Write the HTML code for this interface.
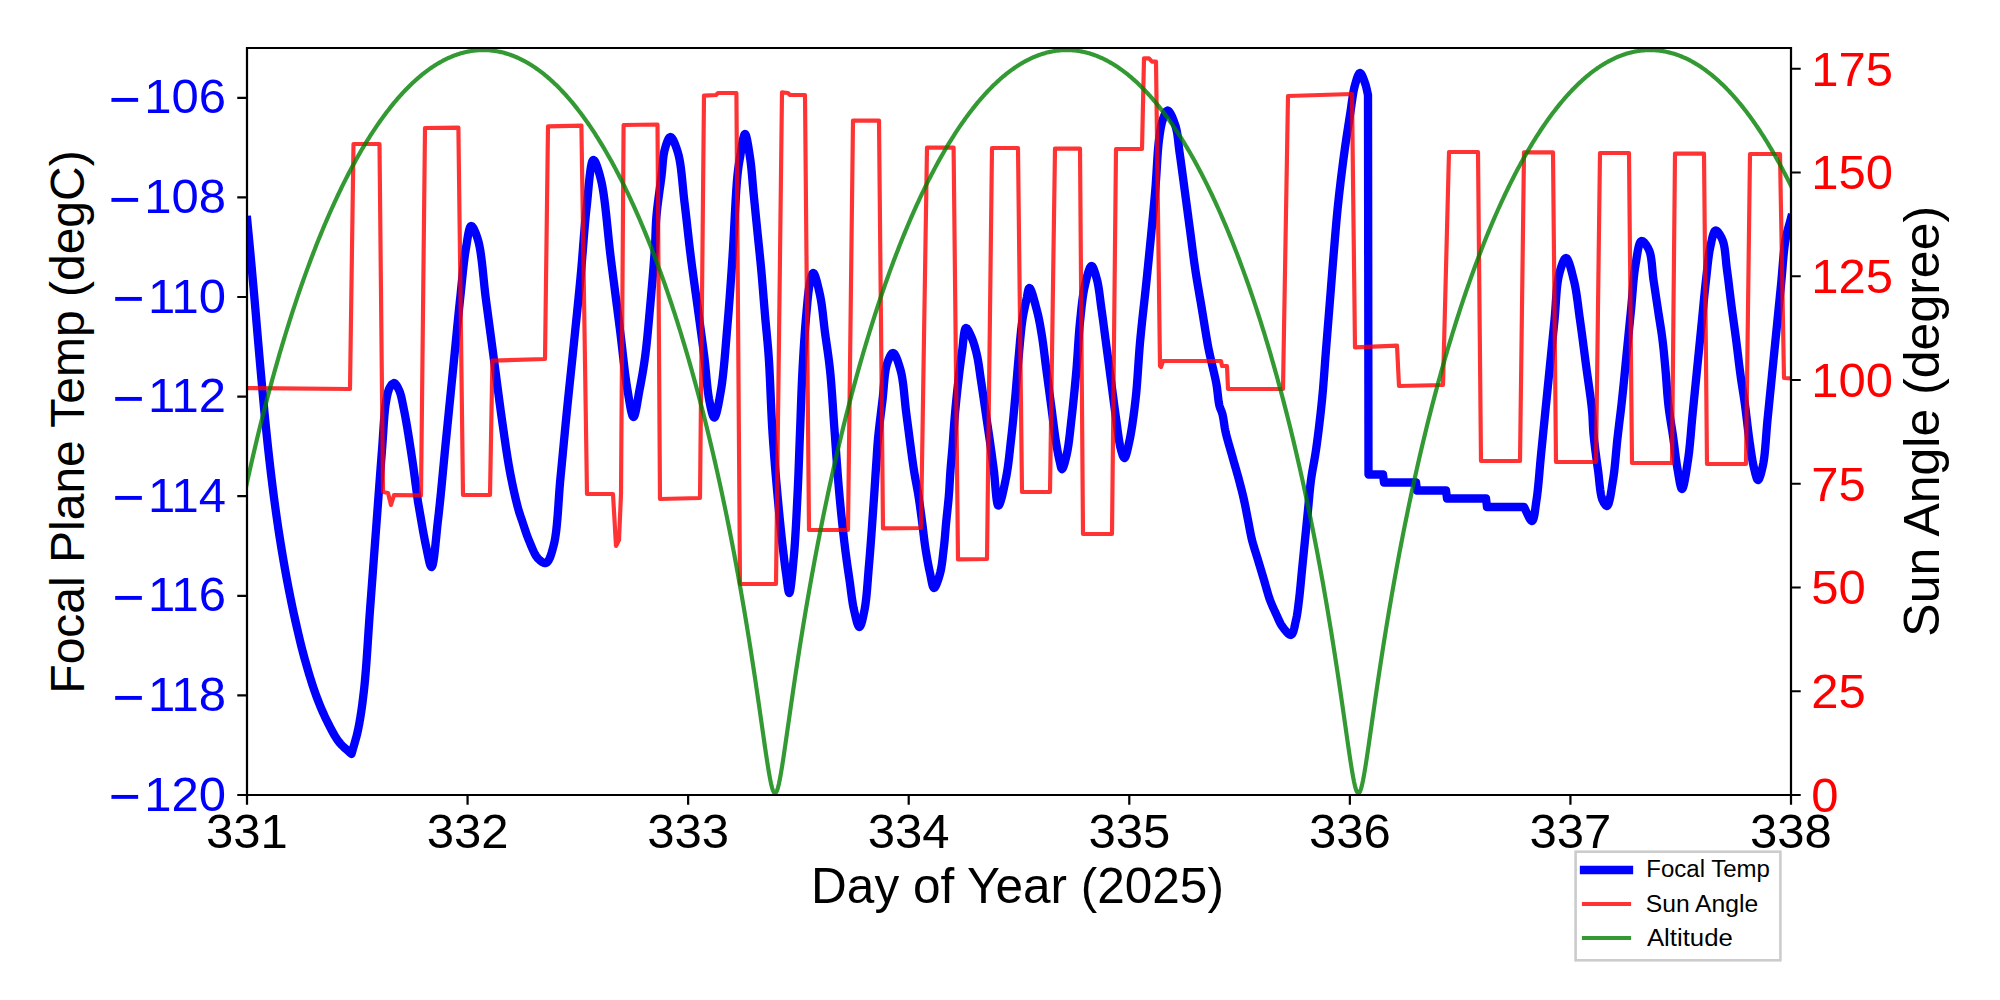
<!DOCTYPE html><html><head><meta charset="utf-8"><style>html,body{margin:0;padding:0;background:#fff;}svg{display:block;}text{font-family:"Liberation Sans", sans-serif;}</style></head><body>
<svg width="2000" height="1000" viewBox="0 0 2000 1000">
<rect width="2000" height="1000" fill="#fff"/>
<defs><clipPath id="ax"><rect x="247" y="48" width="1544" height="747"/></clipPath></defs>
<g clip-path="url(#ax)" fill="none">
<path d="M247.2,220 L247.39,222 L247.58,224 L247.77,226 L247.96,228 L248.15,230 L248.35,232 L248.54,234 L248.73,236 L248.92,238 L249.11,240 L249.3,242 L249.49,244 L249.68,246 L249.87,248 L250.06,250 L250.25,252 L250.44,254 L250.63,256 L250.81,258 L251,260 L251.18,262 L251.37,264 L251.55,266 L251.74,268 L251.92,270 L252.1,272 L252.28,274 L252.46,276 L252.64,278 L252.82,280 L253,282 L253.18,284 L253.36,286 L253.54,288 L253.72,290 L253.9,292 L254.07,294 L254.25,296 L254.42,298 L254.6,300 L254.77,302 L254.95,304 L255.12,306 L255.29,308 L255.46,310 L255.63,312 L255.8,314 L255.97,316 L256.14,318 L256.31,320 L256.47,322 L256.64,324 L256.81,326 L256.98,328 L257.15,330 L257.32,332 L257.49,334 L257.66,336 L257.83,338 L258,340 L258.17,342 L258.35,344 L258.52,346 L258.69,348 L258.86,350 L259.04,352 L259.21,354 L259.38,356 L259.56,358 L259.73,360 L259.91,362 L260.08,364 L260.26,366 L260.43,368 L260.61,370 L260.79,372 L260.96,374 L261.14,376 L261.32,378 L261.5,380 L261.68,382 L261.86,384 L262.04,386 L262.22,388 L262.4,390 L262.58,392 L262.76,394 L262.94,396 L263.12,398 L263.31,400 L263.49,402 L263.67,404 L263.86,406 L264.05,408 L264.24,410 L264.42,412 L264.62,414 L264.81,416 L265,418 L265.2,420 L265.4,422 L265.6,424 L265.8,426 L266,428 L266.2,430 L266.4,432 L266.61,434 L266.81,436 L267.02,438 L267.23,440 L267.43,442 L267.65,444 L267.86,446 L268.07,448 L268.29,450 L268.51,452 L268.73,454 L268.95,456 L269.17,458 L269.4,460 L269.63,462 L269.86,464 L270.09,466 L270.32,468 L270.56,470 L270.79,472 L271.03,474.01 L271.27,476.01 L271.51,478.01 L271.75,480.01 L272,482.01 L272.24,484.01 L272.49,486.01 L272.74,488.01 L273,490.01 L273.25,492 L273.51,494 L273.77,496 L274.03,498 L274.3,500 L274.57,502 L274.84,504 L275.11,506 L275.39,508.01 L275.66,510.01 L275.94,512.01 L276.22,514.01 L276.5,516.01 L276.79,518.01 L277.08,520.01 L277.37,522.01 L277.66,524.01 L277.95,526.01 L278.25,528.01 L278.55,530.01 L278.86,532.01 L279.16,534.01 L279.47,536 L279.78,538 L280.1,540 L280.42,542 L280.74,544 L281.06,546.01 L281.39,548.01 L281.72,550.01 L282.05,552.01 L282.38,554.01 L282.72,556.01 L283.06,558.01 L283.4,560.01 L283.75,562.01 L284.1,564.01 L284.45,566.01 L284.8,568.01 L285.16,570.01 L285.52,572.01 L285.89,574.01 L286.25,576.01 L286.62,578 L287,580 L287.38,582 L287.76,584.01 L288.15,586.01 L288.53,588.01 L288.92,590.01 L289.32,592.01 L289.71,594.02 L290.11,596.02 L290.52,598.02 L290.92,600.02 L291.33,602.02 L291.75,604.02 L292.16,606.02 L292.59,608.02 L293.01,610.01 L293.44,612.01 L293.87,614.01 L294.31,616.01 L294.75,618 L295.2,620 L295.65,622.01 L296.11,624.02 L296.56,626.03 L297.02,628.05 L297.49,630.06 L297.96,632.08 L298.43,634.1 L298.9,636.12 L299.38,638.13 L299.87,640.15 L300.36,642.16 L300.85,644.16 L301.35,646.17 L301.85,648.17 L302.36,650.16 L302.88,652.14 L303.4,654.12 L303.93,656.09 L304.46,658.05 L305,660 L305.56,661.98 L306.12,663.97 L306.69,665.96 L307.27,667.95 L307.85,669.95 L308.44,671.94 L309.04,673.93 L309.64,675.91 L310.25,677.88 L310.86,679.84 L311.47,681.78 L312.09,683.71 L312.71,685.62 L313.34,687.5 L313.97,689.36 L314.6,691.19 L315.23,693 L315.86,694.77 L316.5,696.5 L317.27,698.57 L318.05,700.59 L318.82,702.58 L319.6,704.52 L320.38,706.43 L321.17,708.31 L321.96,710.17 L322.77,712.01 L323.58,713.82 L324.41,715.63 L325.26,717.42 L326.12,719.21 L327,721 L327.92,722.85 L328.85,724.72 L329.79,726.58 L330.74,728.44 L331.71,730.29 L332.69,732.1 L333.69,733.89 L334.71,735.63 L335.74,737.32 L336.8,738.95 L337.89,740.52 L339,742 L340.46,743.75 L341.97,745.37 L343.53,746.89 L345.12,748.33 L346.72,749.73 L348.32,751.12 L349.92,752.54 L351.5,754 L352.05,752.02 L352.6,750.07 L353.16,748.15 L353.73,746.24 L354.29,744.33 L354.85,742.4 L355.4,740.46 L355.95,738.48 L356.49,736.45 L357.01,734.37 L357.51,732.23 L358,730 L358.36,728.25 L358.71,726.49 L359.05,724.7 L359.39,722.9 L359.71,721.07 L360.03,719.21 L360.35,717.33 L360.65,715.43 L360.96,713.49 L361.25,711.53 L361.54,709.54 L361.83,707.51 L362.11,705.45 L362.39,703.36 L362.66,701.23 L362.93,699.06 L363.2,696.86 L363.47,694.61 L363.74,692.33 L364,690 L364.18,688.33 L364.36,686.62 L364.54,684.89 L364.72,683.12 L364.89,681.32 L365.06,679.5 L365.22,677.65 L365.38,675.77 L365.54,673.87 L365.7,671.95 L365.86,670 L366.01,668.03 L366.16,666.05 L366.31,664.05 L366.46,662.03 L366.61,659.99 L366.75,657.94 L366.9,655.88 L367.04,653.81 L367.18,651.73 L367.32,649.64 L367.46,647.54 L367.6,645.44 L367.74,643.33 L367.88,641.22 L368.01,639.1 L368.15,636.99 L368.29,634.87 L368.43,632.76 L368.57,630.65 L368.71,628.54 L368.85,626.44 L368.99,624.35 L369.13,622.26 L369.27,620.19 L369.41,618.12 L369.56,616.07 L369.7,614.03 L369.85,612.01 L370,610 L370.15,608 L370.3,606 L370.45,604 L370.6,602 L370.75,600 L370.9,598 L371.05,596 L371.2,594 L371.35,592 L371.5,590 L371.65,588 L371.8,586 L371.95,584 L372.1,582 L372.25,580 L372.4,578 L372.55,576 L372.7,574 L372.85,572 L373,570 L373.15,568 L373.3,566 L373.45,564 L373.6,562 L373.75,560 L373.9,558 L374.05,556 L374.2,554 L374.35,552 L374.5,550 L374.65,548 L374.8,546 L374.95,544 L375.1,542 L375.25,540 L375.4,538 L375.55,536 L375.7,534 L375.85,532 L376,530 L376.15,527.99 L376.3,525.98 L376.45,523.95 L376.6,521.91 L376.76,519.86 L376.91,517.81 L377.06,515.74 L377.22,513.67 L377.37,511.6 L377.52,509.52 L377.68,507.44 L377.83,505.36 L377.98,503.27 L378.14,501.19 L378.29,499.11 L378.45,497.02 L378.6,494.94 L378.75,492.87 L378.91,490.8 L379.06,488.73 L379.21,486.67 L379.36,484.62 L379.52,482.57 L379.67,480.54 L379.82,478.51 L379.97,476.5 L380.12,474.49 L380.27,472.5 L380.42,470.53 L380.57,468.57 L380.71,466.63 L380.86,464.7 L381.01,462.79 L381.15,460.9 L381.3,459.03 L381.44,457.18 L381.58,455.35 L381.72,453.54 L381.86,451.76 L382,450 L382.17,447.74 L382.34,445.48 L382.5,443.23 L382.65,440.97 L382.8,438.73 L382.95,436.5 L383.09,434.28 L383.23,432.08 L383.37,429.9 L383.51,427.74 L383.65,425.61 L383.79,423.52 L383.94,421.45 L384.09,419.43 L384.24,417.45 L384.4,415.51 L384.57,413.62 L384.74,411.78 L384.92,409.99 L385.12,408.27 L385.32,406.6 L385.53,405 L385.76,403.46 L386,402 L386.48,399.3 L386.96,396.76 L387.45,394.4 L387.99,392.23 L388.58,390.27 L389.25,388.52 L390,387 L391.92,384.22 L394,383 L395.28,383.71 L396.58,385.39 L397.85,387.61 L399,390 L399.63,391.51 L400.21,393.15 L400.74,394.9 L401.23,396.77 L401.7,398.75 L402.15,400.83 L402.59,403 L403.04,405.25 L403.51,407.59 L404,410 L404.33,411.6 L404.66,413.27 L404.99,415.01 L405.33,416.81 L405.67,418.67 L406.01,420.58 L406.36,422.53 L406.7,424.52 L407.05,426.55 L407.4,428.62 L407.74,430.71 L408.09,432.82 L408.43,434.94 L408.77,437.08 L409.11,439.23 L409.45,441.37 L409.78,443.51 L410.11,445.65 L410.44,447.77 L410.76,449.87 L411.08,451.95 L411.39,454 L411.7,456.02 L412,458 L412.31,460.04 L412.61,462.07 L412.9,464.09 L413.19,466.11 L413.47,468.12 L413.75,470.13 L414.03,472.13 L414.3,474.13 L414.57,476.13 L414.84,478.12 L415.1,480.11 L415.36,482.1 L415.62,484.09 L415.89,486.08 L416.15,488.06 L416.41,490.05 L416.67,492.04 L416.93,494.02 L417.19,496.01 L417.46,498.01 L417.73,500 L418,502 L418.36,504.02 L418.73,506.06 L419.09,508.13 L419.46,510.22 L419.82,512.33 L420.19,514.44 L420.55,516.56 L420.91,518.69 L421.28,520.81 L421.64,522.92 L422.01,525.02 L422.37,527.1 L422.74,529.17 L423.1,531.2 L423.46,533.21 L423.83,535.18 L424.19,537.11 L424.55,538.99 L424.92,540.83 L425.28,542.61 L425.64,544.34 L426,546 L426.56,548.61 L427.12,551.39 L427.68,554.22 L428.25,557.02 L428.81,559.66 L429.37,562.05 L429.92,564.08 L430.46,565.65 L430.99,566.66 L431.5,567 L431.82,566.82 L432.14,566.33 L432.45,565.55 L432.75,564.51 L433.05,563.21 L433.34,561.69 L433.63,559.96 L433.92,558.04 L434.2,555.94 L434.48,553.7 L434.75,551.33 L435.03,548.85 L435.3,546.28 L435.57,543.64 L435.84,540.95 L436.11,538.23 L436.38,535.5 L436.64,532.78 L436.91,530.08 L437.18,527.44 L437.45,524.86 L437.73,522.38 L438,520 L438.21,518.25 L438.41,516.48 L438.62,514.68 L438.82,512.86 L439.02,511.02 L439.23,509.15 L439.43,507.27 L439.63,505.36 L439.84,503.44 L440.04,501.5 L440.24,499.54 L440.44,497.56 L440.64,495.58 L440.84,493.57 L441.04,491.56 L441.24,489.53 L441.44,487.5 L441.64,485.45 L441.83,483.39 L442.03,481.33 L442.23,479.26 L442.43,477.19 L442.63,475.11 L442.83,473.02 L443.02,470.94 L443.22,468.85 L443.42,466.76 L443.62,464.67 L443.81,462.58 L444.01,460.5 L444.21,458.42 L444.41,456.34 L444.61,454.27 L444.8,452.2 L445,450.15 L445.2,448.1 L445.4,446.06 L445.6,444.03 L445.8,442.01 L446,440 L446.2,438 L446.4,435.99 L446.6,433.97 L446.81,431.95 L447.01,429.92 L447.21,427.89 L447.41,425.85 L447.62,423.82 L447.82,421.77 L448.03,419.73 L448.23,417.69 L448.44,415.64 L448.64,413.59 L448.85,411.54 L449.05,409.5 L449.26,407.45 L449.46,405.4 L449.66,403.36 L449.87,401.32 L450.07,399.28 L450.28,397.25 L450.48,395.22 L450.68,393.19 L450.88,391.17 L451.08,389.16 L451.28,387.15 L451.49,385.15 L451.68,383.16 L451.88,381.17 L452.08,379.19 L452.28,377.22 L452.47,375.26 L452.67,373.32 L452.86,371.38 L453.05,369.45 L453.25,367.53 L453.44,365.63 L453.63,363.74 L453.81,361.86 L454,360 L454.21,357.86 L454.42,355.74 L454.63,353.63 L454.84,351.54 L455.04,349.45 L455.25,347.38 L455.45,345.32 L455.65,343.27 L455.85,341.23 L456.05,339.2 L456.24,337.18 L456.44,335.17 L456.64,333.17 L456.83,331.18 L457.03,329.19 L457.22,327.21 L457.41,325.24 L457.61,323.27 L457.8,321.31 L458,319.36 L458.19,317.41 L458.39,315.46 L458.59,313.52 L458.78,311.58 L458.98,309.65 L459.18,307.72 L459.39,305.79 L459.59,303.86 L459.79,301.93 L460,300 L460.22,297.92 L460.44,295.82 L460.66,293.7 L460.88,291.57 L461.09,289.43 L461.31,287.29 L461.53,285.14 L461.74,282.99 L461.96,280.85 L462.17,278.71 L462.39,276.58 L462.61,274.47 L462.83,272.37 L463.05,270.29 L463.28,268.23 L463.51,266.2 L463.74,264.2 L463.97,262.23 L464.21,260.29 L464.45,258.4 L464.7,256.54 L464.95,254.73 L465.2,252.97 L465.46,251.26 L465.73,249.6 L466,248 L466.42,245.48 L466.84,242.84 L467.26,240.15 L467.68,237.5 L468.11,234.95 L468.56,232.58 L469.03,230.47 L469.52,228.67 L470.04,227.28 L470.6,226.37 L471.2,226 L472.07,226.37 L473.03,227.55 L474.05,229.37 L475.1,231.69 L476.13,234.34 L477.11,237.16 L478,240 L478.38,241.33 L478.74,242.75 L479.09,244.26 L479.43,245.85 L479.75,247.51 L480.06,249.25 L480.36,251.05 L480.65,252.92 L480.93,254.84 L481.2,256.82 L481.46,258.84 L481.72,260.91 L481.97,263.01 L482.21,265.15 L482.45,267.31 L482.68,269.5 L482.92,271.71 L483.14,273.94 L483.37,276.17 L483.6,278.41 L483.83,280.65 L484.05,282.88 L484.28,285.1 L484.51,287.31 L484.75,289.5 L484.99,291.67 L485.23,293.81 L485.48,295.91 L485.74,297.98 L486,300 L486.27,302 L486.53,304 L486.8,306 L487.07,308 L487.33,310 L487.6,312 L487.87,314 L488.13,316 L488.4,318 L488.67,320 L488.93,322 L489.2,324 L489.47,326 L489.73,328 L490,330 L490.27,332 L490.53,334 L490.8,336 L491.07,338 L491.33,340 L491.6,342 L491.87,344 L492.13,346 L492.4,348 L492.67,350 L492.93,352 L493.2,354 L493.47,356 L493.73,358 L494,360 L494.27,362 L494.53,364.01 L494.8,366.02 L495.06,368.03 L495.33,370.05 L495.59,372.07 L495.85,374.09 L496.12,376.11 L496.38,378.14 L496.64,380.16 L496.91,382.19 L497.17,384.21 L497.43,386.23 L497.7,388.25 L497.96,390.27 L498.23,392.29 L498.49,394.3 L498.76,396.31 L499.02,398.32 L499.29,400.32 L499.56,402.32 L499.82,404.31 L500.09,406.3 L500.36,408.28 L500.63,410.25 L500.9,412.22 L501.18,414.18 L501.45,416.13 L501.72,418.07 L502,420 L502.3,422.07 L502.59,424.15 L502.89,426.23 L503.19,428.31 L503.48,430.38 L503.78,432.46 L504.07,434.53 L504.37,436.6 L504.66,438.66 L504.96,440.72 L505.26,442.77 L505.56,444.82 L505.86,446.85 L506.16,448.87 L506.47,450.89 L506.78,452.89 L507.09,454.87 L507.4,456.85 L507.71,458.81 L508.03,460.75 L508.35,462.67 L508.67,464.58 L509,466.46 L509.33,468.33 L509.66,470.18 L510,472 L510.42,474.19 L510.84,476.39 L511.28,478.59 L511.72,480.79 L512.17,482.97 L512.62,485.14 L513.07,487.28 L513.53,489.4 L513.99,491.49 L514.45,493.54 L514.91,495.55 L515.37,497.51 L515.82,499.42 L516.27,501.27 L516.71,503.06 L517.15,504.78 L517.58,506.43 L518,508 L518.66,510.34 L519.29,512.44 L519.9,514.37 L520.52,516.22 L521.15,518.06 L521.81,519.96 L522.5,522 L523.15,523.95 L523.81,525.96 L524.48,528.01 L525.16,530.09 L525.87,532.19 L526.61,534.29 L527.37,536.39 L528.17,538.46 L529,540.5 L529.79,542.39 L530.59,544.36 L531.41,546.38 L532.26,548.4 L533.14,550.39 L534.04,552.31 L534.97,554.12 L535.94,555.78 L536.95,557.25 L538,558.5 L539.94,560.38 L542.04,561.99 L544.12,562.98 L546,563 L547.08,562.35 L548.09,561.21 L549.04,559.63 L549.92,557.7 L550.76,555.48 L551.55,553.03 L552.31,550.42 L553.04,547.72 L553.75,545 L554.1,543.58 L554.43,542.09 L554.74,540.53 L555.04,538.89 L555.32,537.19 L555.59,535.42 L555.84,533.59 L556.09,531.71 L556.32,529.78 L556.54,527.8 L556.75,525.78 L556.95,523.71 L557.14,521.61 L557.33,519.48 L557.51,517.31 L557.68,515.12 L557.85,512.91 L558.01,510.68 L558.17,508.43 L558.33,506.17 L558.48,503.91 L558.64,501.64 L558.79,499.37 L558.95,497.11 L559.1,494.85 L559.26,492.6 L559.42,490.37 L559.59,488.16 L559.76,485.97 L559.93,483.8 L560.11,481.67 L560.3,479.57 L560.5,477.5 L560.7,475.45 L560.9,473.41 L561.1,471.36 L561.3,469.32 L561.49,467.27 L561.69,465.23 L561.89,463.18 L562.08,461.14 L562.28,459.09 L562.47,457.05 L562.67,455 L562.86,452.95 L563.06,450.91 L563.25,448.86 L563.44,446.82 L563.64,444.77 L563.83,442.73 L564.03,440.68 L564.22,438.64 L564.42,436.59 L564.61,434.54 L564.81,432.5 L565,430.45 L565.2,428.41 L565.4,426.36 L565.59,424.32 L565.79,422.27 L565.99,420.23 L566.19,418.18 L566.39,416.14 L566.59,414.09 L566.8,412.05 L567,410 L567.21,407.95 L567.41,405.91 L567.62,403.86 L567.83,401.82 L568.04,399.77 L568.25,397.73 L568.46,395.68 L568.67,393.63 L568.88,391.59 L569.09,389.54 L569.31,387.5 L569.52,385.45 L569.73,383.41 L569.95,381.36 L570.16,379.32 L570.38,377.27 L570.59,375.23 L570.81,373.18 L571.02,371.14 L571.24,369.09 L571.45,367.05 L571.67,365 L571.88,362.95 L572.1,360.91 L572.31,358.86 L572.52,356.82 L572.74,354.77 L572.95,352.73 L573.16,350.68 L573.37,348.64 L573.58,346.59 L573.79,344.55 L574,342.5 L574.21,340.45 L574.42,338.41 L574.63,336.36 L574.84,334.32 L575.05,332.27 L575.25,330.23 L575.46,328.18 L575.67,326.14 L575.88,324.09 L576.09,322.05 L576.3,320 L576.51,317.96 L576.72,315.91 L576.93,313.87 L577.14,311.82 L577.34,309.78 L577.55,307.73 L577.76,305.69 L577.96,303.64 L578.17,301.59 L578.37,299.55 L578.58,297.5 L578.78,295.46 L578.98,293.41 L579.18,291.37 L579.38,289.32 L579.58,287.28 L579.78,285.23 L579.98,283.18 L580.17,281.14 L580.37,279.09 L580.56,277.05 L580.75,275 L580.94,272.95 L581.12,270.89 L581.31,268.82 L581.49,266.74 L581.66,264.66 L581.84,262.57 L582.01,260.47 L582.18,258.37 L582.34,256.27 L582.51,254.16 L582.68,252.06 L582.84,249.95 L583.01,247.85 L583.17,245.74 L583.33,243.64 L583.5,241.55 L583.66,239.46 L583.83,237.37 L583.99,235.29 L584.16,233.22 L584.33,231.16 L584.5,229.11 L584.68,227.07 L584.85,225.04 L585.03,223.03 L585.22,221.03 L585.4,219.04 L585.59,217.07 L585.78,215.12 L585.98,213.19 L586.18,211.27 L586.39,209.37 L586.6,207.5 L586.86,205.18 L587.11,202.74 L587.36,200.2 L587.61,197.57 L587.86,194.89 L588.11,192.17 L588.37,189.42 L588.62,186.68 L588.88,183.97 L589.14,181.3 L589.41,178.69 L589.69,176.16 L589.97,173.75 L590.26,171.46 L590.56,169.32 L590.87,167.34 L591.19,165.56 L591.52,163.99 L591.87,162.64 L592.23,161.55 L592.6,160.73 L592.99,160.21 L593.4,160 L594.07,160.26 L594.79,161.12 L595.55,162.5 L596.34,164.33 L597.15,166.51 L597.96,168.97 L598.77,171.64 L599.55,174.41 L600.3,177.23 L601,180 L601.32,181.36 L601.64,182.78 L601.95,184.27 L602.26,185.82 L602.55,187.44 L602.84,189.11 L603.13,190.83 L603.41,192.61 L603.68,194.43 L603.95,196.3 L604.21,198.22 L604.47,200.17 L604.73,202.17 L604.98,204.19 L605.23,206.25 L605.47,208.34 L605.71,210.46 L605.95,212.6 L606.18,214.76 L606.42,216.94 L606.65,219.13 L606.88,221.34 L607.1,223.55 L607.33,225.78 L607.55,228 L607.78,230.23 L608,232.46 L608.23,234.68 L608.45,236.9 L608.67,239.1 L608.9,241.3 L609.13,243.47 L609.35,245.63 L609.58,247.77 L609.81,249.88 L610.04,251.97 L610.28,254.03 L610.52,256.06 L610.76,258.05 L611,260 L611.26,262.07 L611.52,264.13 L611.79,266.19 L612.05,268.24 L612.31,270.29 L612.57,272.34 L612.84,274.39 L613.1,276.43 L613.36,278.46 L613.62,280.5 L613.89,282.53 L614.15,284.55 L614.41,286.58 L614.67,288.6 L614.93,290.61 L615.19,292.62 L615.45,294.63 L615.71,296.63 L615.97,298.63 L616.23,300.62 L616.48,302.61 L616.74,304.6 L617,306.58 L617.25,308.56 L617.51,310.53 L617.76,312.5 L618.01,314.46 L618.27,316.42 L618.52,318.37 L618.77,320.32 L619.02,322.27 L619.26,324.21 L619.51,326.14 L619.76,328.07 L620,330 L620.26,332.08 L620.52,334.18 L620.77,336.29 L621.03,338.42 L621.28,340.54 L621.52,342.68 L621.77,344.82 L622.01,346.96 L622.26,349.09 L622.5,351.23 L622.74,353.36 L622.98,355.48 L623.22,357.6 L623.46,359.7 L623.7,361.79 L623.94,363.86 L624.18,365.91 L624.42,367.95 L624.66,369.96 L624.91,371.95 L625.15,373.91 L625.4,375.84 L625.65,377.74 L625.91,379.61 L626.16,381.44 L626.42,383.24 L626.69,384.99 L626.95,386.71 L627.22,388.38 L627.5,390 L627.94,392.58 L628.38,395.3 L628.83,398.08 L629.29,400.89 L629.75,403.64 L630.22,406.29 L630.69,408.78 L631.16,411.05 L631.63,413.03 L632.1,414.68 L632.57,415.93 L633.04,416.72 L633.5,417 L633.96,416.7 L634.43,415.85 L634.9,414.51 L635.38,412.76 L635.85,410.67 L636.32,408.3 L636.79,405.74 L637.26,403.04 L637.72,400.27 L638.18,397.52 L638.63,394.84 L639.07,392.31 L639.5,390 L639.88,388.07 L640.25,386.14 L640.62,384.2 L640.98,382.26 L641.34,380.31 L641.7,378.35 L642.05,376.38 L642.4,374.38 L642.74,372.37 L643.08,370.34 L643.41,368.28 L643.74,366.19 L644.06,364.07 L644.38,361.92 L644.69,359.73 L645,357.5 L645.25,355.64 L645.49,353.76 L645.72,351.85 L645.95,349.91 L646.18,347.95 L646.4,345.97 L646.62,343.97 L646.83,341.95 L647.04,339.91 L647.25,337.85 L647.45,335.78 L647.66,333.69 L647.86,331.59 L648.05,329.48 L648.25,327.36 L648.45,325.23 L648.64,323.09 L648.83,320.94 L649.03,318.79 L649.22,316.64 L649.41,314.48 L649.61,312.32 L649.8,310.16 L650,308 L650.18,306.03 L650.36,304.03 L650.54,302 L650.73,299.94 L650.91,297.87 L651.1,295.77 L651.28,293.66 L651.47,291.53 L651.65,289.39 L651.84,287.25 L652.02,285.1 L652.2,282.94 L652.39,280.79 L652.57,278.63 L652.74,276.49 L652.92,274.35 L653.09,272.22 L653.26,270.11 L653.43,268.02 L653.59,265.94 L653.75,263.89 L653.9,261.86 L654.05,259.86 L654.2,257.89 L654.34,255.95 L654.48,254.05 L654.61,252.19 L654.73,250.37 L654.85,248.6 L654.99,246.28 L655.12,244.04 L655.22,241.86 L655.32,239.74 L655.4,237.68 L655.47,235.65 L655.54,233.65 L655.61,231.68 L655.68,229.72 L655.75,227.77 L655.84,225.8 L655.93,223.83 L656.04,221.83 L656.17,219.8 L656.32,217.72 L656.5,215.6 L656.69,213.59 L656.89,211.54 L657.11,209.46 L657.35,207.35 L657.61,205.22 L657.87,203.08 L658.14,200.92 L658.43,198.76 L658.72,196.6 L659.01,194.44 L659.3,192.29 L659.6,190.15 L659.89,188.03 L660.18,185.94 L660.46,183.87 L660.74,181.84 L661,179.85 L661.26,177.9 L661.5,176 L661.76,173.77 L661.99,171.54 L662.19,169.33 L662.38,167.14 L662.56,164.99 L662.74,162.86 L662.94,160.79 L663.15,158.76 L663.38,156.78 L663.65,154.88 L663.96,153.04 L664.33,151.28 L664.75,149.6 L665.52,146.9 L666.39,144.07 L667.34,141.4 L668.34,139.14 L669.37,137.59 L670.4,137 L671.31,137.39 L672.28,138.5 L673.28,140.2 L674.29,142.36 L675.3,144.85 L676.27,147.54 L677.17,150.3 L678,153 L678.42,154.51 L678.82,156.12 L679.19,157.8 L679.54,159.56 L679.87,161.39 L680.18,163.29 L680.48,165.24 L680.76,167.25 L681.03,169.31 L681.28,171.42 L681.53,173.56 L681.76,175.73 L681.99,177.94 L682.22,180.16 L682.43,182.4 L682.65,184.65 L682.87,186.91 L683.09,189.16 L683.31,191.41 L683.53,193.65 L683.76,195.88 L684,198.08 L684.24,200.26 L684.5,202.4 L684.74,204.35 L684.98,206.3 L685.21,208.27 L685.45,210.26 L685.68,212.25 L685.91,214.25 L686.14,216.25 L686.37,218.27 L686.6,220.29 L686.82,222.32 L687.05,224.34 L687.28,226.38 L687.51,228.41 L687.73,230.45 L687.96,232.48 L688.19,234.52 L688.42,236.55 L688.64,238.58 L688.87,240.61 L689.1,242.63 L689.34,244.64 L689.57,246.65 L689.8,248.65 L690.04,250.64 L690.28,252.62 L690.52,254.59 L690.76,256.55 L691,258.5 L691.27,260.62 L691.54,262.74 L691.81,264.84 L692.09,266.93 L692.37,269.02 L692.65,271.1 L692.93,273.17 L693.21,275.23 L693.49,277.29 L693.77,279.35 L694.06,281.4 L694.34,283.45 L694.63,285.49 L694.91,287.53 L695.2,289.58 L695.48,291.62 L695.77,293.66 L696.06,295.7 L696.34,297.74 L696.62,299.79 L696.91,301.83 L697.19,303.88 L697.47,305.94 L697.75,308 L698.03,310.07 L698.31,312.14 L698.6,314.21 L698.88,316.29 L699.17,318.37 L699.45,320.46 L699.74,322.54 L700.03,324.63 L700.31,326.72 L700.6,328.8 L700.89,330.89 L701.17,332.97 L701.45,335.05 L701.74,337.12 L702.02,339.19 L702.29,341.26 L702.57,343.32 L702.84,345.37 L703.11,347.41 L703.38,349.45 L703.64,351.48 L703.9,353.5 L704.15,355.5 L704.4,357.5 L704.66,359.63 L704.9,361.78 L705.13,363.96 L705.36,366.15 L705.58,368.35 L705.79,370.55 L706,372.76 L706.2,374.95 L706.41,377.14 L706.61,379.3 L706.82,381.44 L707.03,383.56 L707.24,385.64 L707.46,387.68 L707.69,389.67 L707.92,391.62 L708.17,393.51 L708.43,395.34 L708.71,397.1 L708.99,398.79 L709.3,400.4 L709.85,403.16 L710.43,406.06 L711.04,408.92 L711.67,411.61 L712.31,413.97 L712.96,415.84 L713.61,417.06 L714.25,417.5 L714.75,417.22 L715.26,416.43 L715.79,415.19 L716.32,413.56 L716.86,411.59 L717.39,409.34 L717.93,406.87 L718.45,404.23 L718.97,401.48 L719.48,398.68 L719.97,395.87 L720.45,393.13 L720.9,390.5 L721.16,388.92 L721.42,387.29 L721.67,385.61 L721.92,383.88 L722.16,382.11 L722.39,380.3 L722.62,378.44 L722.85,376.55 L723.07,374.63 L723.28,372.67 L723.49,370.69 L723.7,368.68 L723.9,366.64 L724.1,364.58 L724.3,362.5 L724.49,360.4 L724.68,358.29 L724.87,356.17 L725.05,354.03 L725.23,351.89 L725.41,349.75 L725.59,347.6 L725.77,345.45 L725.94,343.3 L726.12,341.16 L726.29,339.03 L726.46,336.9 L726.64,334.79 L726.81,332.69 L726.98,330.61 L727.15,328.55 L727.33,326.51 L727.5,324.5 L727.67,322.5 L727.84,320.51 L728.01,318.53 L728.18,316.55 L728.34,314.58 L728.5,312.6 L728.66,310.64 L728.81,308.67 L728.97,306.71 L729.12,304.74 L729.27,302.78 L729.42,300.82 L729.57,298.85 L729.72,296.89 L729.86,294.92 L730.01,292.95 L730.15,290.98 L730.3,289 L730.44,287.02 L730.58,285.04 L730.72,283.05 L730.86,281.05 L731,279.05 L731.14,277.03 L731.28,275.02 L731.42,272.99 L731.56,270.95 L731.7,268.9 L731.84,266.85 L731.98,264.78 L732.12,262.7 L732.26,260.61 L732.4,258.5 L732.53,256.58 L732.65,254.61 L732.78,252.61 L732.91,250.56 L733.03,248.49 L733.15,246.38 L733.28,244.24 L733.4,242.08 L733.52,239.9 L733.64,237.69 L733.76,235.47 L733.88,233.24 L734,231 L734.12,228.74 L734.24,226.49 L734.36,224.23 L734.48,221.98 L734.6,219.72 L734.71,217.48 L734.83,215.25 L734.95,213.03 L735.07,210.82 L735.19,208.64 L735.31,206.47 L735.43,204.34 L735.55,202.23 L735.66,200.15 L735.78,198.11 L735.91,196.1 L736.03,194.13 L736.15,192.21 L736.27,190.33 L736.39,188.5 L736.52,186.73 L736.64,185.01 L736.76,183.34 L736.89,181.74 L737.02,180.2 L737.14,178.73 L737.27,177.33 L737.4,176 L737.67,173.37 L737.94,171.03 L738.19,168.92 L738.45,166.98 L738.72,165.13 L739,163.33 L739.31,161.49 L739.64,159.57 L740,157.5 L740.34,155.49 L740.71,153.19 L741.1,150.71 L741.51,148.12 L741.93,145.52 L742.36,142.98 L742.81,140.6 L743.25,138.45 L743.7,136.63 L744.14,135.23 L744.58,134.32 L745,134 L745.42,134.29 L745.85,135.13 L746.29,136.44 L746.73,138.14 L747.17,140.17 L747.61,142.46 L748.04,144.92 L748.47,147.5 L748.88,150.12 L749.27,152.71 L749.65,155.19 L750,157.5 L750.28,159.36 L750.54,161.27 L750.79,163.23 L751.02,165.23 L751.24,167.27 L751.46,169.34 L751.66,171.43 L751.86,173.55 L752.05,175.69 L752.24,177.84 L752.42,180 L752.6,182.17 L752.79,184.33 L752.97,186.49 L753.16,188.65 L753.35,190.78 L753.55,192.9 L753.75,195 L753.96,197.08 L754.17,199.17 L754.37,201.25 L754.58,203.33 L754.79,205.42 L755,207.5 L755.21,209.58 L755.42,211.67 L755.62,213.75 L755.83,215.83 L756.04,217.92 L756.25,220 L756.46,222.08 L756.67,224.17 L756.88,226.25 L757.08,228.33 L757.29,230.42 L757.5,232.5 L757.71,234.58 L757.92,236.65 L758.13,238.71 L758.34,240.77 L758.55,242.82 L758.76,244.87 L758.97,246.92 L759.18,248.98 L759.39,251.03 L759.6,253.1 L759.81,255.17 L760.02,257.24 L760.23,259.33 L760.44,261.43 L760.64,263.55 L760.85,265.68 L761.05,267.83 L761.25,270 L761.43,271.96 L761.6,273.94 L761.78,275.94 L761.95,277.95 L762.13,279.97 L762.3,282.01 L762.47,284.06 L762.64,286.11 L762.81,288.18 L762.97,290.25 L763.14,292.32 L763.31,294.4 L763.48,296.48 L763.64,298.56 L763.81,300.64 L763.98,302.71 L764.15,304.78 L764.32,306.84 L764.49,308.9 L764.66,310.94 L764.83,312.98 L765,315 L765.18,317.04 L765.36,319.05 L765.54,321.03 L765.72,322.99 L765.9,324.94 L766.09,326.88 L766.27,328.81 L766.46,330.74 L766.64,332.67 L766.83,334.6 L767.01,336.55 L767.19,338.51 L767.37,340.48 L767.55,342.49 L767.73,344.51 L767.91,346.57 L768.08,348.67 L768.26,350.81 L768.42,352.99 L768.59,355.22 L768.75,357.5 L768.87,359.26 L768.98,361.05 L769.1,362.88 L769.21,364.73 L769.31,366.62 L769.42,368.53 L769.52,370.47 L769.62,372.43 L769.72,374.42 L769.82,376.43 L769.91,378.45 L770.01,380.5 L770.1,382.56 L770.19,384.63 L770.28,386.72 L770.37,388.82 L770.46,390.93 L770.55,393.04 L770.65,395.17 L770.74,397.29 L770.83,399.42 L770.92,401.55 L771.01,403.68 L771.11,405.81 L771.2,407.93 L771.3,410.05 L771.39,412.16 L771.49,414.26 L771.6,416.35 L771.7,418.43 L771.8,420.5 L771.91,422.55 L772.02,424.58 L772.14,426.59 L772.26,428.58 L772.38,430.55 L772.5,432.5 L772.64,434.61 L772.78,436.71 L772.92,438.81 L773.07,440.9 L773.21,442.98 L773.36,445.07 L773.52,447.14 L773.67,449.21 L773.82,451.28 L773.98,453.33 L774.14,455.39 L774.3,457.43 L774.46,459.48 L774.62,461.51 L774.79,463.54 L774.95,465.56 L775.12,467.57 L775.28,469.58 L775.45,471.58 L775.62,473.57 L775.79,475.56 L775.96,477.54 L776.13,479.51 L776.3,481.48 L776.47,483.43 L776.64,485.38 L776.81,487.32 L776.99,489.25 L777.16,491.18 L777.33,493.09 L777.5,495 L777.69,497.11 L777.88,499.23 L778.08,501.34 L778.27,503.45 L778.47,505.56 L778.67,507.67 L778.87,509.77 L779.07,511.86 L779.27,513.94 L779.47,516.02 L779.68,518.08 L779.88,520.13 L780.08,522.16 L780.29,524.18 L780.49,526.19 L780.69,528.17 L780.9,530.14 L781.1,532.08 L781.3,534.01 L781.5,535.91 L781.71,537.78 L781.91,539.63 L782.1,541.45 L782.3,543.24 L782.5,545 L782.75,547.24 L783,549.44 L783.26,551.61 L783.5,553.75 L783.75,555.85 L784,557.92 L784.25,559.96 L784.5,561.96 L784.75,563.92 L784.99,565.85 L785.24,567.75 L785.49,569.61 L785.74,571.44 L786,573.24 L786.25,575 L786.58,577.4 L786.91,580.01 L787.24,582.68 L787.57,585.3 L787.9,587.73 L788.23,589.85 L788.57,591.52 L788.91,592.61 L789.25,593 L789.51,592.77 L789.77,592.13 L790.04,591.1 L790.32,589.73 L790.59,588.06 L790.87,586.11 L791.15,583.93 L791.43,581.56 L791.71,579.03 L791.98,576.37 L792.25,573.63 L792.52,570.85 L792.78,568.05 L793.04,565.28 L793.28,562.57 L793.52,559.97 L793.75,557.5 L793.91,555.75 L794.07,553.97 L794.22,552.15 L794.37,550.3 L794.51,548.42 L794.65,546.52 L794.79,544.59 L794.93,542.63 L795.06,540.65 L795.19,538.65 L795.32,536.63 L795.44,534.59 L795.56,532.54 L795.68,530.48 L795.8,528.4 L795.92,526.31 L796.03,524.22 L796.14,522.12 L796.25,520.01 L796.36,517.9 L796.47,515.79 L796.58,513.68 L796.68,511.57 L796.79,509.46 L796.89,507.37 L796.99,505.28 L797.1,503.19 L797.2,501.12 L797.3,499.07 L797.4,497.03 L797.5,495 L797.6,492.98 L797.7,490.97 L797.79,488.95 L797.88,486.94 L797.97,484.92 L798.06,482.91 L798.15,480.89 L798.23,478.87 L798.32,476.86 L798.4,474.84 L798.48,472.82 L798.56,470.81 L798.64,468.79 L798.71,466.78 L798.79,464.76 L798.87,462.74 L798.94,460.73 L799.02,458.71 L799.09,456.69 L799.16,454.68 L799.24,452.66 L799.31,450.65 L799.39,448.63 L799.46,446.61 L799.53,444.6 L799.61,442.58 L799.69,440.56 L799.76,438.55 L799.84,436.53 L799.92,434.52 L800,432.5 L800.08,430.48 L800.16,428.46 L800.24,426.43 L800.31,424.41 L800.39,422.38 L800.46,420.34 L800.53,418.31 L800.61,416.27 L800.68,414.23 L800.75,412.2 L800.82,410.16 L800.9,408.12 L800.97,406.08 L801.04,404.05 L801.12,402.01 L801.19,399.98 L801.27,397.95 L801.34,395.92 L801.42,393.9 L801.5,391.88 L801.58,389.86 L801.66,387.85 L801.75,385.84 L801.83,383.84 L801.92,381.84 L802.01,379.85 L802.1,377.87 L802.2,375.89 L802.3,373.92 L802.4,371.96 L802.5,370 L802.61,367.89 L802.73,365.78 L802.85,363.65 L802.97,361.53 L803.09,359.39 L803.22,357.26 L803.34,355.13 L803.47,353 L803.6,350.87 L803.73,348.74 L803.87,346.63 L804,344.52 L804.14,342.42 L804.28,340.33 L804.42,338.26 L804.57,336.2 L804.71,334.15 L804.86,332.13 L805,330.12 L805.15,328.14 L805.31,326.18 L805.46,324.25 L805.61,322.34 L805.77,320.46 L805.93,318.61 L806.09,316.79 L806.25,315 L806.46,312.7 L806.66,310.39 L806.87,308.09 L807.07,305.81 L807.28,303.55 L807.48,301.32 L807.69,299.12 L807.91,296.98 L808.13,294.89 L808.36,292.86 L808.6,290.91 L808.85,289.03 L809.12,287.25 L809.4,285.56 L809.69,283.97 L810,282.5 L810.58,279.91 L811.19,277.35 L811.84,275.13 L812.53,273.58 L813.25,273 L813.79,273.33 L814.38,274.25 L815,275.67 L815.65,277.51 L816.31,279.68 L816.98,282.1 L817.64,284.69 L818.28,287.36 L818.89,290.02 L819.47,292.6 L820,295 L820.38,296.82 L820.74,298.71 L821.07,300.65 L821.39,302.63 L821.69,304.66 L821.97,306.73 L822.24,308.83 L822.5,310.95 L822.76,313.1 L823,315.26 L823.25,317.43 L823.49,319.61 L823.73,321.79 L823.97,323.97 L824.21,326.13 L824.47,328.28 L824.73,330.4 L825,332.5 L825.28,334.57 L825.56,336.62 L825.85,338.65 L826.14,340.66 L826.42,342.67 L826.71,344.67 L827,346.67 L827.29,348.68 L827.58,350.69 L827.86,352.72 L828.15,354.77 L828.43,356.84 L828.7,358.94 L828.97,361.07 L829.24,363.23 L829.5,365.44 L829.75,367.7 L830,370 L830.18,371.78 L830.36,373.59 L830.53,375.43 L830.7,377.29 L830.87,379.18 L831.03,381.09 L831.19,383.03 L831.34,384.98 L831.5,386.96 L831.65,388.95 L831.8,390.96 L831.95,392.98 L832.09,395.01 L832.23,397.06 L832.38,399.11 L832.52,401.18 L832.66,403.25 L832.8,405.32 L832.94,407.4 L833.07,409.47 L833.21,411.55 L833.35,413.63 L833.49,415.7 L833.63,417.77 L833.77,419.84 L833.92,421.89 L834.06,423.94 L834.2,425.97 L834.35,427.99 L834.5,430 L834.65,432 L834.8,434.02 L834.95,436.04 L835.09,438.07 L835.24,440.1 L835.39,442.14 L835.53,444.18 L835.68,446.23 L835.83,448.27 L835.97,450.32 L836.12,452.37 L836.26,454.42 L836.41,456.46 L836.56,458.5 L836.7,460.54 L836.85,462.58 L837,464.6 L837.15,466.62 L837.3,468.64 L837.45,470.64 L837.6,472.64 L837.75,474.62 L837.9,476.59 L838.05,478.55 L838.21,480.5 L838.36,482.43 L838.52,484.35 L838.68,486.25 L838.84,488.14 L839,490 L839.19,492.19 L839.39,494.39 L839.59,496.58 L839.79,498.77 L839.99,500.95 L840.2,503.12 L840.41,505.29 L840.61,507.44 L840.82,509.57 L841.03,511.69 L841.24,513.79 L841.45,515.86 L841.66,517.92 L841.87,519.95 L842.08,521.95 L842.29,523.92 L842.5,525.86 L842.7,527.76 L842.91,529.63 L843.11,531.46 L843.3,533.25 L843.5,535 L843.76,537.27 L844.01,539.45 L844.26,541.57 L844.51,543.62 L844.76,545.62 L845,547.57 L845.25,549.5 L845.49,551.4 L845.74,553.29 L845.99,555.18 L846.24,557.08 L846.5,559 L846.79,561.14 L847.08,563.23 L847.36,565.29 L847.65,567.32 L847.95,569.36 L848.24,571.4 L848.54,573.47 L848.85,575.58 L849.17,577.76 L849.5,580 L849.77,581.86 L850.03,583.8 L850.29,585.8 L850.55,587.85 L850.82,589.93 L851.09,592.04 L851.37,594.16 L851.65,596.28 L851.95,598.38 L852.25,600.46 L852.57,602.5 L852.9,604.48 L853.25,606.4 L853.61,608.25 L854,610 L854.6,612.61 L855.24,615.42 L855.91,618.25 L856.61,620.96 L857.32,623.35 L858.03,625.27 L858.73,626.54 L859.4,627 L860.06,626.56 L860.74,625.34 L861.41,623.49 L862.08,621.16 L862.73,618.5 L863.36,615.65 L863.95,612.77 L864.5,610 L864.8,608.42 L865.08,606.76 L865.35,605.03 L865.6,603.24 L865.84,601.39 L866.07,599.49 L866.28,597.53 L866.49,595.53 L866.69,593.48 L866.88,591.4 L867.06,589.28 L867.24,587.13 L867.42,584.96 L867.59,582.77 L867.76,580.56 L867.93,578.34 L868.1,576.11 L868.28,573.88 L868.45,571.64 L868.63,569.42 L868.81,567.2 L869,565 L869.16,563.13 L869.32,561.23 L869.48,559.31 L869.65,557.37 L869.81,555.4 L869.97,553.42 L870.12,551.42 L870.28,549.4 L870.44,547.37 L870.6,545.32 L870.75,543.27 L870.91,541.21 L871.06,539.15 L871.21,537.08 L871.37,535 L871.52,532.93 L871.67,530.86 L871.82,528.8 L871.96,526.74 L872.11,524.68 L872.25,522.64 L872.4,520.61 L872.54,518.59 L872.68,516.59 L872.82,514.6 L872.96,512.64 L873.1,510.69 L873.23,508.77 L873.37,506.87 L873.5,505 L873.65,502.8 L873.81,500.6 L873.96,498.4 L874.11,496.2 L874.26,494 L874.4,491.8 L874.55,489.62 L874.69,487.45 L874.83,485.29 L874.97,483.15 L875.11,481.04 L875.25,478.95 L875.38,476.88 L875.51,474.84 L875.64,472.84 L875.77,470.88 L875.9,468.95 L876.02,467.06 L876.15,465.22 L876.27,463.43 L876.38,461.69 L876.5,460 L876.66,457.61 L876.8,455.4 L876.93,453.32 L877.06,451.34 L877.18,449.4 L877.31,447.48 L877.45,445.52 L877.61,443.48 L877.79,441.32 L878,439 L878.17,437.23 L878.35,435.39 L878.55,433.49 L878.76,431.54 L878.98,429.55 L879.21,427.51 L879.44,425.44 L879.69,423.34 L879.93,421.21 L880.19,419.07 L880.45,416.92 L880.71,414.76 L880.97,412.61 L881.23,410.45 L881.49,408.32 L881.75,406.19 L882,404.1 L882.26,402.03 L882.5,400 L882.74,397.93 L882.95,395.82 L883.16,393.66 L883.35,391.48 L883.54,389.29 L883.72,387.09 L883.91,384.89 L884.09,382.71 L884.29,380.55 L884.5,378.43 L884.72,376.35 L884.96,374.33 L885.22,372.38 L885.51,370.51 L885.83,368.72 L886.18,367.04 L886.57,365.46 L887,364 L887.85,361.47 L888.81,358.94 L889.84,356.62 L890.9,354.72 L891.96,353.44 L893,353 L893.84,353.37 L894.71,354.36 L895.59,355.85 L896.48,357.76 L897.35,359.98 L898.2,362.42 L899.02,364.96 L899.79,367.52 L900.5,370 L900.92,371.58 L901.31,373.23 L901.67,374.96 L902.01,376.75 L902.32,378.61 L902.62,380.53 L902.9,382.5 L903.17,384.52 L903.42,386.58 L903.66,388.68 L903.9,390.81 L904.12,392.97 L904.34,395.16 L904.56,397.36 L904.78,399.57 L905,401.79 L905.23,404.02 L905.46,406.24 L905.7,408.45 L905.96,410.66 L906.22,412.84 L906.5,415 L906.76,416.96 L907.02,418.95 L907.29,420.98 L907.56,423.04 L907.83,425.13 L908.11,427.25 L908.38,429.38 L908.66,431.52 L908.94,433.68 L909.22,435.85 L909.5,438.02 L909.78,440.19 L910.06,442.36 L910.34,444.51 L910.63,446.66 L910.91,448.79 L911.19,450.9 L911.47,452.98 L911.75,455.04 L912.02,457.06 L912.3,459.05 L912.57,461 L912.84,462.9 L913.11,464.76 L913.38,466.56 L913.64,468.31 L913.9,470 L914.27,472.32 L914.64,474.54 L915.01,476.66 L915.38,478.72 L915.74,480.71 L916.11,482.65 L916.47,484.55 L916.82,486.44 L917.17,488.31 L917.51,490.19 L917.85,492.09 L918.18,494.02 L918.5,496 L918.81,498 L919.11,500 L919.4,501.99 L919.69,503.99 L919.97,505.99 L920.24,507.99 L920.51,509.99 L920.78,512 L921.05,514 L921.31,516 L921.57,518 L921.84,520 L922.1,522 L922.36,524 L922.61,526 L922.85,528 L923.09,530 L923.32,532 L923.56,534.01 L923.8,536.01 L924.04,538.01 L924.29,540.01 L924.54,542.01 L924.81,544.01 L925.1,546 L925.4,548 L925.72,550.03 L926.05,552.09 L926.4,554.17 L926.75,556.28 L927.12,558.38 L927.49,560.48 L927.87,562.55 L928.26,564.6 L928.65,566.61 L929.04,568.56 L929.43,570.45 L929.81,572.27 L930.2,574 L930.71,576.47 L931.21,579.12 L931.71,581.75 L932.22,584.15 L932.77,586.12 L933.35,587.47 L934,588 L934.76,587.55 L935.61,586.23 L936.52,584.27 L937.44,581.85 L938.34,579.2 L939.17,576.51 L939.9,574 L940.35,572.28 L940.76,570.48 L941.13,568.59 L941.47,566.64 L941.79,564.63 L942.08,562.58 L942.35,560.5 L942.61,558.4 L942.85,556.29 L943.09,554.18 L943.33,552.09 L943.56,550.03 L943.8,548 L944.03,546 L944.25,544 L944.45,542.01 L944.64,540.01 L944.82,538.01 L945,536.01 L945.16,534 L945.33,532 L945.5,530 L945.66,528 L945.83,526 L946.01,524 L946.2,522 L946.4,520 L946.6,518 L946.8,516 L947.01,514 L947.23,512 L947.44,510 L947.65,508 L947.86,506 L948.06,504 L948.26,502 L948.45,500 L948.63,498 L948.8,496 L948.96,494 L949.11,491.98 L949.25,489.96 L949.38,487.93 L949.5,485.9 L949.62,483.88 L949.74,481.86 L949.86,479.84 L949.98,477.84 L950.1,475.85 L950.23,473.88 L950.36,471.93 L950.5,470 L950.66,467.95 L950.82,465.94 L950.99,463.98 L951.16,462.04 L951.34,460.11 L951.51,458.17 L951.69,456.23 L951.87,454.25 L952.05,452.23 L952.22,450.15 L952.4,448 L952.55,446.16 L952.69,444.29 L952.83,442.37 L952.97,440.42 L953.11,438.44 L953.26,436.44 L953.4,434.41 L953.54,432.37 L953.69,430.32 L953.84,428.26 L953.99,426.2 L954.14,424.14 L954.3,422.08 L954.46,420.04 L954.63,418.01 L954.8,416 L954.98,414 L955.16,412 L955.34,410 L955.53,408 L955.71,406 L955.91,404 L956.1,402 L956.3,400 L956.5,398 L956.71,396 L956.91,394 L957.13,392 L957.34,390 L957.56,388 L957.78,386 L958,384 L958.23,381.99 L958.46,379.97 L958.69,377.93 L958.93,375.89 L959.17,373.84 L959.41,371.79 L959.66,369.75 L959.91,367.7 L960.16,365.67 L960.42,363.66 L960.68,361.65 L960.94,359.67 L961.2,357.71 L961.46,355.78 L961.73,353.87 L962,352 L962.3,349.73 L962.58,347.27 L962.85,344.69 L963.11,342.06 L963.38,339.45 L963.66,336.94 L963.96,334.6 L964.28,332.51 L964.64,330.72 L965.04,329.33 L965.49,328.4 L966,328 L967.13,328.67 L968.43,330.65 L969.76,333.31 L971,336 L971.71,337.63 L972.41,339.39 L973.09,341.26 L973.74,343.22 L974.38,345.27 L974.99,347.39 L975.59,349.56 L976.16,351.77 L976.7,354 L977.11,355.8 L977.49,357.65 L977.85,359.55 L978.19,361.49 L978.52,363.48 L978.83,365.49 L979.14,367.53 L979.43,369.59 L979.72,371.66 L980.01,373.74 L980.3,375.82 L980.59,377.89 L980.89,379.95 L981.2,382 L981.5,383.97 L981.8,385.95 L982.1,387.93 L982.39,389.92 L982.69,391.92 L982.98,393.92 L983.27,395.93 L983.56,397.94 L983.85,399.95 L984.14,401.96 L984.43,403.97 L984.72,405.98 L985.02,407.99 L985.31,410 L985.6,412 L985.89,414 L986.19,416.01 L986.49,418.02 L986.79,420.03 L987.08,422.04 L987.38,424.05 L987.68,426.06 L987.98,428.07 L988.27,430.07 L988.57,432.08 L988.86,434.07 L989.15,436.06 L989.44,438.05 L989.72,440.03 L990,442 L990.28,444.02 L990.56,446.02 L990.84,448 L991.11,449.97 L991.38,451.93 L991.65,453.89 L991.91,455.85 L992.18,457.81 L992.44,459.79 L992.71,461.78 L992.98,463.79 L993.25,465.83 L993.52,467.9 L993.8,470 L994.06,472.1 L994.3,474.42 L994.54,476.93 L994.77,479.57 L995,482.3 L995.23,485.08 L995.46,487.86 L995.7,490.59 L995.94,493.23 L996.19,495.73 L996.46,498.05 L996.73,500.15 L997.03,501.97 L997.34,503.47 L997.67,504.6 L998.02,505.33 L998.4,505.6 L998.85,505.37 L999.34,504.64 L999.87,503.48 L1000.42,501.94 L1001,500.08 L1001.59,497.95 L1002.18,495.61 L1002.78,493.11 L1003.37,490.51 L1003.95,487.87 L1004.51,485.25 L1005.05,482.69 L1005.54,480.25 L1006,478 L1006.36,476.16 L1006.7,474.28 L1007.03,472.38 L1007.34,470.45 L1007.63,468.49 L1007.92,466.52 L1008.19,464.52 L1008.45,462.51 L1008.7,460.49 L1008.94,458.45 L1009.18,456.41 L1009.41,454.36 L1009.64,452.3 L1009.87,450.24 L1010.09,448.18 L1010.31,446.13 L1010.54,444.08 L1010.77,442.03 L1011,440 L1011.23,438.02 L1011.45,436.04 L1011.67,434.06 L1011.88,432.07 L1012.09,430.08 L1012.3,428.08 L1012.51,426.08 L1012.71,424.08 L1012.91,422.08 L1013.11,420.07 L1013.3,418.06 L1013.5,416.05 L1013.69,414.05 L1013.88,412.04 L1014.07,410.03 L1014.26,408.02 L1014.44,406.01 L1014.63,404.01 L1014.81,402 L1015,400 L1015.18,398 L1015.36,396 L1015.54,394 L1015.71,392 L1015.88,390 L1016.05,388 L1016.21,386 L1016.37,384 L1016.54,382 L1016.7,380 L1016.86,378 L1017.03,376 L1017.19,374 L1017.35,372 L1017.52,370 L1017.69,368 L1017.86,366 L1018.04,364 L1018.22,362 L1018.4,360 L1018.58,357.98 L1018.77,355.94 L1018.95,353.87 L1019.13,351.78 L1019.31,349.67 L1019.5,347.56 L1019.68,345.44 L1019.87,343.33 L1020.05,341.22 L1020.24,339.13 L1020.44,337.05 L1020.64,335 L1020.84,332.97 L1021.04,330.98 L1021.25,329.02 L1021.47,327.11 L1021.69,325.25 L1021.92,323.44 L1022.16,321.69 L1022.4,320 L1022.76,317.69 L1023.14,315.47 L1023.53,313.32 L1023.94,311.24 L1024.35,309.24 L1024.77,307.29 L1025.18,305.4 L1025.6,303.56 L1026,301.76 L1026.4,300 L1026.88,297.54 L1027.33,294.89 L1027.78,292.32 L1028.25,290.13 L1028.78,288.59 L1029.4,288 L1029.94,288.33 L1030.55,289.28 L1031.22,290.76 L1031.92,292.67 L1032.66,294.92 L1033.4,297.4 L1034.15,300.03 L1034.87,302.7 L1035.57,305.32 L1036.21,307.78 L1036.8,310 L1037.3,311.93 L1037.77,313.86 L1038.22,315.78 L1038.64,317.71 L1039.04,319.65 L1039.43,321.6 L1039.8,323.57 L1040.16,325.58 L1040.52,327.61 L1040.88,329.69 L1041.24,331.82 L1041.6,334 L1041.9,335.82 L1042.18,337.67 L1042.47,339.57 L1042.74,341.5 L1043.02,343.46 L1043.29,345.45 L1043.55,347.46 L1043.81,349.49 L1044.07,351.54 L1044.33,353.59 L1044.59,355.66 L1044.84,357.72 L1045.1,359.79 L1045.36,361.86 L1045.61,363.91 L1045.87,365.96 L1046.14,367.99 L1046.4,370 L1046.67,372 L1046.93,374 L1047.2,376 L1047.47,378 L1047.73,380 L1048,382 L1048.27,384 L1048.53,386 L1048.8,388 L1049.07,390 L1049.33,392 L1049.6,394 L1049.87,396 L1050.13,398 L1050.4,400 L1050.67,402 L1050.93,404 L1051.2,406 L1051.47,408.02 L1051.73,410.06 L1052,412.13 L1052.26,414.22 L1052.53,416.32 L1052.79,418.43 L1053.06,420.53 L1053.32,422.63 L1053.59,424.72 L1053.86,426.79 L1054.12,428.84 L1054.39,430.85 L1054.66,432.83 L1054.92,434.77 L1055.19,436.67 L1055.46,438.51 L1055.73,440.29 L1056,442 L1056.4,444.43 L1056.79,446.79 L1057.19,449.09 L1057.59,451.32 L1057.99,453.46 L1058.39,455.5 L1058.79,457.45 L1059.2,459.28 L1059.6,461 L1060.18,463.62 L1060.74,466.22 L1061.33,468.2 L1062,469 L1062.61,468.5 L1063.28,467.11 L1064,465.04 L1064.74,462.49 L1065.47,459.67 L1066.17,456.77 L1066.8,454 L1067.14,452.4 L1067.47,450.73 L1067.78,448.98 L1068.08,447.17 L1068.37,445.3 L1068.64,443.38 L1068.91,441.4 L1069.17,439.38 L1069.42,437.32 L1069.67,435.23 L1069.91,433.12 L1070.15,430.98 L1070.39,428.82 L1070.63,426.66 L1070.87,424.49 L1071.11,422.32 L1071.35,420.15 L1071.6,418 L1071.82,416.13 L1072.03,414.24 L1072.25,412.33 L1072.46,410.4 L1072.67,408.46 L1072.88,406.49 L1073.09,404.51 L1073.3,402.52 L1073.51,400.51 L1073.72,398.5 L1073.92,396.47 L1074.12,394.44 L1074.33,392.4 L1074.52,390.36 L1074.72,388.31 L1074.92,386.26 L1075.11,384.21 L1075.3,382.17 L1075.49,380.12 L1075.68,378.08 L1075.86,376.05 L1076.04,374.02 L1076.22,372.01 L1076.4,370 L1076.57,368 L1076.74,365.98 L1076.89,363.95 L1077.05,361.92 L1077.19,359.88 L1077.34,357.84 L1077.48,355.79 L1077.61,353.74 L1077.75,351.7 L1077.88,349.65 L1078.01,347.6 L1078.15,345.56 L1078.28,343.53 L1078.41,341.51 L1078.55,339.49 L1078.69,337.48 L1078.84,335.49 L1078.98,333.51 L1079.14,331.54 L1079.29,329.59 L1079.46,327.66 L1079.63,325.75 L1079.81,323.87 L1080,322 L1080.22,319.85 L1080.44,317.71 L1080.66,315.57 L1080.88,313.43 L1081.09,311.31 L1081.32,309.2 L1081.54,307.1 L1081.78,305.03 L1082.02,302.98 L1082.27,300.95 L1082.53,298.95 L1082.81,296.98 L1083.1,295.05 L1083.4,293.15 L1083.72,291.3 L1084.06,289.48 L1084.42,287.72 L1084.8,286 L1085.36,283.56 L1085.98,280.96 L1086.62,278.28 L1087.3,275.64 L1088,273.12 L1088.71,270.84 L1089.42,268.89 L1090.13,267.36 L1090.83,266.37 L1091.5,266 L1092.28,266.42 L1093.07,267.61 L1093.87,269.4 L1094.65,271.61 L1095.41,274.07 L1096.13,276.59 L1096.8,279 L1097.23,280.66 L1097.63,282.42 L1098,284.27 L1098.36,286.21 L1098.69,288.22 L1099.01,290.29 L1099.31,292.41 L1099.6,294.57 L1099.88,296.76 L1100.16,298.98 L1100.44,301.2 L1100.72,303.43 L1101.01,305.64 L1101.3,307.84 L1101.6,310 L1101.88,311.93 L1102.15,313.88 L1102.42,315.84 L1102.69,317.82 L1102.96,319.8 L1103.23,321.8 L1103.49,323.8 L1103.76,325.81 L1104.02,327.83 L1104.29,329.85 L1104.55,331.87 L1104.81,333.9 L1105.08,335.92 L1105.34,337.95 L1105.6,339.97 L1105.87,341.98 L1106.13,344 L1106.4,346 L1106.67,348 L1106.93,350 L1107.2,352 L1107.47,354 L1107.73,356 L1108,358 L1108.27,360 L1108.53,362 L1108.8,364 L1109.07,366 L1109.33,368 L1109.6,370 L1109.87,372 L1110.13,374 L1110.4,376 L1110.67,378 L1110.93,380 L1111.2,382 L1111.47,384 L1111.73,386.02 L1112,388.03 L1112.26,390.05 L1112.52,392.08 L1112.79,394.1 L1113.05,396.13 L1113.31,398.15 L1113.58,400.17 L1113.84,402.19 L1114.11,404.2 L1114.37,406.2 L1114.64,408.2 L1114.91,410.18 L1115.18,412.16 L1115.45,414.12 L1115.72,416.07 L1116,418 L1116.31,420.17 L1116.61,422.4 L1116.9,424.66 L1117.2,426.93 L1117.5,429.21 L1117.79,431.48 L1118.09,433.73 L1118.4,435.93 L1118.71,438.08 L1119.03,440.16 L1119.36,442.16 L1119.7,444.06 L1120.05,445.84 L1120.42,447.49 L1120.8,449 L1121.65,452.09 L1122.56,455.01 L1123.48,457.18 L1124.4,458 L1125,457.57 L1125.61,456.41 L1126.22,454.66 L1126.84,452.47 L1127.44,449.97 L1128.04,447.3 L1128.63,444.6 L1129.2,442 L1129.54,440.45 L1129.87,438.82 L1130.21,437.13 L1130.53,435.38 L1130.86,433.57 L1131.18,431.7 L1131.5,429.79 L1131.82,427.82 L1132.13,425.82 L1132.43,423.78 L1132.74,421.7 L1133.03,419.6 L1133.33,417.47 L1133.62,415.32 L1133.9,413.15 L1134.18,410.97 L1134.46,408.78 L1134.73,406.58 L1134.99,404.38 L1135.25,402.19 L1135.5,400 L1135.7,398.17 L1135.9,396.32 L1136.09,394.44 L1136.27,392.54 L1136.45,390.63 L1136.62,388.69 L1136.78,386.74 L1136.94,384.78 L1137.09,382.8 L1137.25,380.8 L1137.39,378.8 L1137.54,376.78 L1137.68,374.75 L1137.82,372.72 L1137.96,370.67 L1138.1,368.63 L1138.24,366.57 L1138.38,364.52 L1138.52,362.46 L1138.66,360.4 L1138.8,358.34 L1138.95,356.28 L1139.09,354.22 L1139.25,352.17 L1139.4,350.12 L1139.56,348.08 L1139.72,346.05 L1139.89,344.02 L1140.07,342 L1140.25,340 L1140.44,338.01 L1140.63,336.02 L1140.82,334.05 L1141.01,332.09 L1141.21,330.13 L1141.41,328.18 L1141.61,326.24 L1141.81,324.3 L1142.02,322.37 L1142.22,320.43 L1142.43,318.5 L1142.64,316.56 L1142.86,314.62 L1143.07,312.68 L1143.29,310.73 L1143.5,308.78 L1143.72,306.82 L1143.94,304.85 L1144.16,302.87 L1144.38,300.87 L1144.6,298.87 L1144.82,296.85 L1145.04,294.81 L1145.26,292.76 L1145.49,290.68 L1145.71,288.59 L1145.93,286.48 L1146.15,284.34 L1146.38,282.18 L1146.6,280 L1146.79,278.16 L1146.98,276.29 L1147.17,274.4 L1147.36,272.48 L1147.56,270.53 L1147.76,268.56 L1147.96,266.57 L1148.16,264.56 L1148.36,262.53 L1148.57,260.49 L1148.78,258.43 L1148.98,256.35 L1149.19,254.26 L1149.4,252.16 L1149.61,250.05 L1149.82,247.93 L1150.03,245.8 L1150.25,243.67 L1150.46,241.53 L1150.67,239.39 L1150.88,237.25 L1151.09,235.11 L1151.3,232.97 L1151.5,230.84 L1151.71,228.71 L1151.92,226.58 L1152.12,224.46 L1152.32,222.36 L1152.52,220.26 L1152.72,218.17 L1152.92,216.1 L1153.11,214.04 L1153.31,211.99 L1153.5,209.97 L1153.68,207.96 L1153.86,205.98 L1154.04,204.01 L1154.22,202.07 L1154.39,200.16 L1154.56,198.27 L1154.73,196.4 L1154.89,194.57 L1155.05,192.77 L1155.2,191 L1155.39,188.74 L1155.57,186.48 L1155.74,184.23 L1155.9,181.99 L1156.05,179.76 L1156.2,177.55 L1156.34,175.35 L1156.48,173.17 L1156.61,171.01 L1156.74,168.87 L1156.86,166.76 L1156.99,164.66 L1157.11,162.6 L1157.24,160.56 L1157.37,158.55 L1157.5,156.58 L1157.63,154.64 L1157.76,152.73 L1157.9,150.86 L1158.05,149.04 L1158.2,147.25 L1158.36,145.51 L1158.53,143.81 L1158.71,142.16 L1158.9,140.55 L1159.1,139 L1159.43,136.57 L1159.75,134.24 L1160.08,132.01 L1160.41,129.87 L1160.76,127.83 L1161.14,125.88 L1161.54,124.03 L1161.98,122.26 L1162.47,120.59 L1163,119 L1164.04,116.17 L1165.19,113.4 L1166.42,111.31 L1167.7,110.5 L1168.62,110.93 L1169.62,112.1 L1170.68,113.84 L1171.75,116.01 L1172.8,118.47 L1173.8,121.05 L1174.71,123.61 L1175.5,126 L1176.01,127.74 L1176.45,129.53 L1176.84,131.37 L1177.18,133.26 L1177.48,135.2 L1177.74,137.19 L1177.99,139.21 L1178.22,141.27 L1178.45,143.36 L1178.68,145.48 L1178.93,147.63 L1179.2,149.81 L1179.5,152 L1179.77,153.87 L1180.04,155.77 L1180.31,157.71 L1180.59,159.69 L1180.87,161.7 L1181.14,163.73 L1181.42,165.79 L1181.71,167.86 L1181.99,169.95 L1182.27,172.06 L1182.55,174.17 L1182.84,176.29 L1183.12,178.41 L1183.4,180.53 L1183.68,182.65 L1183.96,184.76 L1184.24,186.86 L1184.52,188.94 L1184.8,191 L1185.08,193.05 L1185.35,195.1 L1185.63,197.16 L1185.9,199.21 L1186.18,201.26 L1186.45,203.32 L1186.72,205.37 L1187,207.42 L1187.27,209.47 L1187.54,211.53 L1187.82,213.58 L1188.09,215.63 L1188.36,217.68 L1188.63,219.74 L1188.91,221.79 L1189.18,223.84 L1189.45,225.89 L1189.73,227.95 L1190,230 L1190.27,232.05 L1190.54,234.11 L1190.81,236.16 L1191.07,238.21 L1191.34,240.27 L1191.6,242.32 L1191.86,244.37 L1192.12,246.43 L1192.39,248.48 L1192.65,250.53 L1192.92,252.59 L1193.19,254.64 L1193.46,256.69 L1193.74,258.74 L1194.02,260.8 L1194.31,262.85 L1194.6,264.9 L1194.9,266.95 L1195.2,269 L1195.51,271.05 L1195.83,273.11 L1196.15,275.16 L1196.48,277.22 L1196.82,279.27 L1197.16,281.32 L1197.5,283.38 L1197.85,285.43 L1198.19,287.48 L1198.54,289.53 L1198.9,291.58 L1199.25,293.64 L1199.6,295.69 L1199.96,297.74 L1200.31,299.79 L1200.66,301.84 L1201.01,303.9 L1201.36,305.95 L1201.7,308 L1202.04,310.08 L1202.39,312.21 L1202.75,314.38 L1203.11,316.58 L1203.46,318.8 L1203.82,321.03 L1204.19,323.27 L1204.55,325.5 L1204.9,327.71 L1205.26,329.9 L1205.61,332.06 L1205.96,334.17 L1206.3,336.24 L1206.64,338.24 L1206.97,340.17 L1207.29,342.02 L1207.6,343.78 L1207.91,345.44 L1208.2,347 L1208.7,349.53 L1209.15,351.71 L1209.58,353.7 L1210.02,355.64 L1210.48,357.69 L1211,360 L1211.39,361.75 L1211.82,363.59 L1212.27,365.51 L1212.75,367.5 L1213.24,369.54 L1213.73,371.61 L1214.22,373.71 L1214.7,375.81 L1215.17,377.91 L1215.61,379.98 L1216.02,382.01 L1216.4,384 L1216.77,386.25 L1217.1,388.55 L1217.38,390.88 L1217.65,393.21 L1217.9,395.51 L1218.15,397.75 L1218.41,399.91 L1218.7,401.96 L1219.03,403.86 L1219.4,405.6 L1220.11,407.92 L1220.89,409.85 L1221.67,411.76 L1222.4,414 L1222.8,415.68 L1223.15,417.47 L1223.47,419.38 L1223.78,421.37 L1224.09,423.43 L1224.41,425.54 L1224.75,427.68 L1225.15,429.84 L1225.6,432 L1226.06,433.95 L1226.56,435.95 L1227.09,438 L1227.66,440.09 L1228.24,442.2 L1228.85,444.32 L1229.46,446.46 L1230.09,448.6 L1230.71,450.73 L1231.32,452.85 L1231.92,454.94 L1232.5,457 L1233.1,459.13 L1233.7,461.26 L1234.31,463.38 L1234.92,465.5 L1235.53,467.61 L1236.13,469.7 L1236.73,471.79 L1237.31,473.86 L1237.89,475.92 L1238.45,477.97 L1239,480 L1239.54,482.05 L1240.08,484.08 L1240.6,486.09 L1241.12,488.09 L1241.62,490.08 L1242.12,492.06 L1242.6,494.03 L1243.08,496.01 L1243.54,498 L1244,500 L1244.44,502 L1244.86,503.99 L1245.27,505.99 L1245.67,507.99 L1246.06,509.99 L1246.45,511.99 L1246.83,514 L1247.22,516 L1247.6,518 L1248,520 L1248.39,522 L1248.77,524 L1249.14,526.01 L1249.51,528.01 L1249.88,530.01 L1250.26,532.02 L1250.66,534.02 L1251.08,536.01 L1251.52,538.01 L1252,540 L1252.52,542.01 L1253.07,544.02 L1253.66,546.02 L1254.26,548.02 L1254.88,550.01 L1255.51,552.01 L1256.14,554.01 L1256.77,556 L1257.39,558 L1258,560 L1258.6,562 L1259.2,564 L1259.8,566 L1260.4,568 L1261,570 L1261.6,572 L1262.2,574 L1262.8,576 L1263.4,578 L1264,580 L1264.59,582.01 L1265.17,584.04 L1265.75,586.08 L1266.32,588.13 L1266.89,590.16 L1267.48,592.19 L1268.07,594.19 L1268.69,596.17 L1269.33,598.11 L1270,600 L1270.81,602.13 L1271.67,604.25 L1272.56,606.33 L1273.46,608.38 L1274.37,610.38 L1275.27,612.32 L1276.16,614.2 L1277,616 L1277.98,618.18 L1278.88,620.25 L1279.79,622.23 L1280.8,624.14 L1282,626 L1283.33,627.85 L1284.88,629.91 L1286.53,631.94 L1288.18,633.64 L1289.7,634.75 L1291,635 L1292.01,634.26 L1292.88,632.71 L1293.63,630.55 L1294.29,627.99 L1294.89,625.24 L1295.45,622.51 L1296,620 L1296.42,618.15 L1296.79,616.27 L1297.12,614.37 L1297.43,612.43 L1297.71,610.46 L1297.97,608.45 L1298.22,606.4 L1298.48,604.31 L1298.73,602.18 L1299,600 L1299.22,598.18 L1299.44,596.31 L1299.65,594.39 L1299.85,592.44 L1300.05,590.45 L1300.25,588.44 L1300.45,586.41 L1300.64,584.36 L1300.83,582.29 L1301.03,580.23 L1301.22,578.16 L1301.41,576.1 L1301.61,574.05 L1301.8,572.01 L1302,570 L1302.2,568 L1302.4,566 L1302.6,564 L1302.8,562 L1303,560 L1303.2,558 L1303.4,556 L1303.6,554 L1303.8,552 L1304,550 L1304.2,548 L1304.4,546 L1304.6,544 L1304.8,542 L1305,540 L1305.2,538 L1305.4,536 L1305.6,534 L1305.8,532 L1306,530 L1306.2,528 L1306.4,526 L1306.6,524 L1306.8,522 L1307,520 L1307.2,518 L1307.4,516 L1307.6,514 L1307.8,512 L1308,510 L1308.2,508 L1308.38,506 L1308.57,504 L1308.75,502 L1308.93,500 L1309.11,497.99 L1309.29,495.99 L1309.47,493.99 L1309.66,491.99 L1309.85,489.99 L1310.06,487.99 L1310.27,485.99 L1310.5,483.99 L1310.74,482 L1311,480 L1311.28,478.01 L1311.57,476.05 L1311.88,474.12 L1312.2,472.19 L1312.53,470.28 L1312.87,468.36 L1313.22,466.44 L1313.57,464.51 L1313.93,462.55 L1314.28,460.57 L1314.64,458.55 L1314.99,456.49 L1315.33,454.39 L1315.67,452.22 L1316,450 L1316.25,448.24 L1316.5,446.43 L1316.76,444.6 L1317.01,442.73 L1317.26,440.82 L1317.52,438.89 L1317.77,436.93 L1318.03,434.95 L1318.28,432.95 L1318.53,430.93 L1318.78,428.89 L1319.03,426.84 L1319.28,424.77 L1319.52,422.7 L1319.77,420.62 L1320.01,418.54 L1320.24,416.45 L1320.48,414.37 L1320.71,412.29 L1320.94,410.21 L1321.16,408.14 L1321.38,406.09 L1321.59,404.04 L1321.8,402.01 L1322,400 L1322.2,398 L1322.39,396 L1322.57,394 L1322.75,392.01 L1322.93,390.01 L1323.1,388.01 L1323.26,386.01 L1323.43,384.01 L1323.59,382.01 L1323.74,380.01 L1323.9,378.01 L1324.05,376.01 L1324.2,374.01 L1324.35,372.01 L1324.5,370 L1324.64,368 L1324.79,366 L1324.94,364 L1325.08,362 L1325.23,360 L1325.38,358 L1325.53,356 L1325.69,354 L1325.84,352 L1326,350 L1326.16,348 L1326.32,346 L1326.48,344 L1326.64,342 L1326.8,340 L1326.96,338 L1327.12,336 L1327.28,334 L1327.44,332 L1327.6,330 L1327.76,328 L1327.92,326 L1328.08,324 L1328.24,322 L1328.4,320 L1328.56,318 L1328.72,316 L1328.88,314 L1329.04,312 L1329.2,310 L1329.36,308 L1329.52,306 L1329.68,304 L1329.84,302 L1330,300 L1330.16,298 L1330.32,295.99 L1330.48,293.98 L1330.64,291.97 L1330.8,289.96 L1330.96,287.94 L1331.11,285.93 L1331.27,283.91 L1331.43,281.89 L1331.59,279.87 L1331.75,277.86 L1331.91,275.84 L1332.07,273.83 L1332.22,271.82 L1332.38,269.81 L1332.54,267.8 L1332.7,265.8 L1332.86,263.81 L1333.02,261.82 L1333.19,259.83 L1333.35,257.85 L1333.51,255.88 L1333.67,253.91 L1333.84,251.95 L1334,250 L1334.18,247.91 L1334.35,245.83 L1334.52,243.76 L1334.69,241.7 L1334.86,239.66 L1335.03,237.62 L1335.2,235.58 L1335.37,233.56 L1335.54,231.53 L1335.71,229.51 L1335.89,227.49 L1336.06,225.48 L1336.24,223.45 L1336.42,221.43 L1336.6,219.41 L1336.79,217.37 L1336.98,215.34 L1337.17,213.29 L1337.37,211.23 L1337.57,209.17 L1337.78,207.09 L1338,205 L1338.21,203.04 L1338.42,201.07 L1338.63,199.08 L1338.85,197.08 L1339.07,195.07 L1339.3,193.05 L1339.53,191.03 L1339.76,188.99 L1340,186.95 L1340.23,184.91 L1340.47,182.87 L1340.72,180.83 L1340.96,178.79 L1341.21,176.75 L1341.46,174.72 L1341.71,172.69 L1341.96,170.67 L1342.22,168.66 L1342.47,166.66 L1342.72,164.68 L1342.98,162.71 L1343.23,160.75 L1343.49,158.82 L1343.75,156.9 L1344,155 L1344.29,152.89 L1344.58,150.79 L1344.87,148.7 L1345.17,146.62 L1345.46,144.54 L1345.76,142.48 L1346.07,140.43 L1346.37,138.39 L1346.67,136.37 L1346.98,134.35 L1347.28,132.35 L1347.59,130.37 L1347.9,128.39 L1348.2,126.43 L1348.5,124.49 L1348.81,122.56 L1349.11,120.64 L1349.41,118.75 L1349.7,116.86 L1350,115 L1350.33,112.84 L1350.65,110.67 L1350.96,108.5 L1351.26,106.32 L1351.56,104.16 L1351.86,102.01 L1352.16,99.89 L1352.47,97.81 L1352.78,95.78 L1353.1,93.8 L1353.44,91.88 L1353.8,90.03 L1354.17,88.26 L1354.57,86.58 L1355,85 L1355.75,82.38 L1356.55,79.68 L1357.39,77.15 L1358.25,75.03 L1359.13,73.56 L1360,73 L1361.01,73.68 L1362.08,75.47 L1363.13,77.93 L1364.13,80.59 L1365,83 L1365.63,84.91 L1366.17,86.89 L1366.64,88.91 L1367.09,90.94 L1367.53,92.98 L1368,95 L1368.5,474.5 L1383,474.5 L1384,482.5 L1416,482.5 L1417,490.5 L1446,490.5 L1447,498.5 L1486,498.5 L1487,507 L1524,507 L1525.03,508.95 L1526.09,511.2 L1527.17,513.56 L1528.24,515.87 L1529.28,517.94 L1530.27,519.6 L1531.18,520.68 L1532,521 L1532.66,520.55 L1533.24,519.48 L1533.76,517.88 L1534.22,515.86 L1534.64,513.5 L1535.03,510.9 L1535.39,508.15 L1535.75,505.36 L1536.12,502.61 L1536.5,500 L1536.75,498.31 L1537,496.56 L1537.24,494.74 L1537.46,492.86 L1537.69,490.94 L1537.9,488.97 L1538.11,486.95 L1538.31,484.9 L1538.51,482.82 L1538.71,480.71 L1538.9,478.58 L1539.09,476.42 L1539.28,474.26 L1539.46,472.09 L1539.65,469.91 L1539.84,467.74 L1540.03,465.57 L1540.21,463.41 L1540.41,461.27 L1540.6,459.16 L1540.8,457.06 L1541,455 L1541.2,452.95 L1541.41,450.91 L1541.61,448.86 L1541.82,446.82 L1542.02,444.77 L1542.23,442.73 L1542.43,440.68 L1542.64,438.64 L1542.84,436.59 L1543.05,434.55 L1543.25,432.5 L1543.45,430.45 L1543.66,428.41 L1543.86,426.36 L1544.07,424.32 L1544.27,422.27 L1544.48,420.23 L1544.68,418.18 L1544.89,416.14 L1545.09,414.09 L1545.3,412.05 L1545.5,410 L1545.7,407.95 L1545.91,405.91 L1546.11,403.86 L1546.32,401.82 L1546.52,399.77 L1546.73,397.73 L1546.93,395.68 L1547.14,393.64 L1547.34,391.59 L1547.55,389.55 L1547.75,387.5 L1547.95,385.45 L1548.16,383.41 L1548.36,381.36 L1548.57,379.32 L1548.77,377.27 L1548.98,375.23 L1549.18,373.18 L1549.39,371.14 L1549.59,369.09 L1549.8,367.05 L1550,365 L1550.2,362.95 L1550.41,360.91 L1550.61,358.86 L1550.82,356.82 L1551.02,354.77 L1551.23,352.73 L1551.43,350.68 L1551.64,348.64 L1551.84,346.59 L1552.05,344.55 L1552.25,342.5 L1552.45,340.45 L1552.66,338.41 L1552.86,336.36 L1553.07,334.32 L1553.27,332.27 L1553.48,330.23 L1553.68,328.18 L1553.89,326.14 L1554.09,324.09 L1554.3,322.05 L1554.5,320 L1554.7,317.93 L1554.88,315.82 L1555.05,313.68 L1555.21,311.52 L1555.36,309.33 L1555.51,307.12 L1555.66,304.91 L1555.8,302.69 L1555.95,300.48 L1556.1,298.28 L1556.26,296.1 L1556.42,293.94 L1556.59,291.81 L1556.78,289.71 L1556.98,287.66 L1557.2,285.66 L1557.44,283.71 L1557.7,281.82 L1557.98,280 L1558.29,278.25 L1558.63,276.58 L1559,275 L1559.64,272.52 L1560.34,269.95 L1561.1,267.39 L1561.89,264.93 L1562.72,262.7 L1563.55,260.78 L1564.39,259.29 L1565.21,258.33 L1566,258 L1566.68,258.3 L1567.37,259.12 L1568.07,260.39 L1568.78,262.04 L1569.48,264.01 L1570.18,266.23 L1570.87,268.63 L1571.55,271.15 L1572.2,273.71 L1572.83,276.25 L1573.43,278.7 L1574,281 L1574.43,282.79 L1574.83,284.63 L1575.21,286.52 L1575.58,288.45 L1575.92,290.41 L1576.25,292.41 L1576.57,294.45 L1576.88,296.51 L1577.17,298.59 L1577.46,300.7 L1577.74,302.82 L1578.02,304.96 L1578.29,307.1 L1578.57,309.26 L1578.84,311.41 L1579.12,313.57 L1579.41,315.72 L1579.7,317.87 L1580,320 L1580.28,321.98 L1580.56,323.97 L1580.84,325.97 L1581.12,327.98 L1581.39,330 L1581.67,332.04 L1581.94,334.08 L1582.22,336.12 L1582.49,338.17 L1582.76,340.23 L1583.03,342.3 L1583.3,344.36 L1583.57,346.43 L1583.84,348.5 L1584.11,350.57 L1584.38,352.64 L1584.65,354.71 L1584.92,356.77 L1585.19,358.84 L1585.46,360.9 L1585.73,362.95 L1586,365 L1586.28,367.06 L1586.56,369.14 L1586.85,371.25 L1587.15,373.37 L1587.45,375.51 L1587.76,377.65 L1588.07,379.8 L1588.37,381.95 L1588.68,384.1 L1588.98,386.24 L1589.28,388.37 L1589.58,390.49 L1589.87,392.58 L1590.15,394.66 L1590.43,396.71 L1590.69,398.73 L1590.95,400.72 L1591.19,402.67 L1591.41,404.57 L1591.63,406.43 L1591.82,408.24 L1592,410 L1592.2,412.24 L1592.37,414.37 L1592.5,416.41 L1592.61,418.37 L1592.7,420.28 L1592.78,422.16 L1592.86,424.04 L1592.95,425.92 L1593.05,427.84 L1593.17,429.81 L1593.31,431.86 L1593.5,434 L1593.68,435.83 L1593.87,437.7 L1594.08,439.62 L1594.29,441.58 L1594.53,443.57 L1594.77,445.59 L1595.02,447.63 L1595.27,449.69 L1595.54,451.76 L1595.81,453.83 L1596.08,455.91 L1596.36,457.98 L1596.64,460.04 L1596.91,462.09 L1597.19,464.11 L1597.46,466.11 L1597.73,468.07 L1598,470 L1598.28,472.13 L1598.53,474.32 L1598.78,476.56 L1599.02,478.82 L1599.25,481.09 L1599.48,483.35 L1599.72,485.58 L1599.98,487.75 L1600.24,489.86 L1600.54,491.88 L1600.85,493.79 L1601.21,495.58 L1601.59,497.22 L1602.02,498.7 L1602.5,500 L1603.92,502.95 L1605.51,505.23 L1607,506 L1607.57,505.62 L1608.12,504.75 L1608.65,503.46 L1609.16,501.81 L1609.64,499.85 L1610.11,497.64 L1610.56,495.23 L1611,492.7 L1611.42,490.08 L1611.83,487.45 L1612.23,484.85 L1612.62,482.35 L1613,480 L1613.29,478.22 L1613.56,476.39 L1613.82,474.52 L1614.07,472.61 L1614.3,470.67 L1614.53,468.69 L1614.74,466.69 L1614.95,464.66 L1615.15,462.61 L1615.35,460.55 L1615.54,458.48 L1615.73,456.39 L1615.92,454.31 L1616.11,452.23 L1616.3,450.15 L1616.49,448.08 L1616.68,446.02 L1616.87,443.98 L1617.08,441.96 L1617.28,439.97 L1617.5,438 L1617.73,435.96 L1617.97,433.93 L1618.2,431.93 L1618.44,429.93 L1618.68,427.95 L1618.92,425.97 L1619.16,424 L1619.4,422.03 L1619.64,420.07 L1619.88,418.1 L1620.12,416.13 L1620.36,414.16 L1620.6,412.17 L1620.84,410.18 L1621.07,408.18 L1621.31,406.16 L1621.54,404.13 L1621.77,402.07 L1622,400 L1622.21,398.03 L1622.42,396.05 L1622.63,394.06 L1622.84,392.05 L1623.05,390.03 L1623.26,388 L1623.46,385.97 L1623.67,383.92 L1623.87,381.87 L1624.07,379.81 L1624.28,377.74 L1624.48,375.67 L1624.68,373.6 L1624.88,371.53 L1625.08,369.45 L1625.28,367.38 L1625.49,365.3 L1625.69,363.23 L1625.89,361.17 L1626.09,359.11 L1626.3,357.05 L1626.5,355 L1626.7,352.95 L1626.91,350.91 L1627.11,348.86 L1627.32,346.82 L1627.52,344.77 L1627.73,342.73 L1627.93,340.68 L1628.14,338.64 L1628.34,336.59 L1628.55,334.55 L1628.75,332.5 L1628.95,330.45 L1629.16,328.41 L1629.36,326.36 L1629.57,324.32 L1629.77,322.27 L1629.98,320.23 L1630.18,318.18 L1630.39,316.14 L1630.59,314.09 L1630.8,312.05 L1631,310 L1631.2,307.94 L1631.39,305.85 L1631.58,303.75 L1631.76,301.62 L1631.94,299.48 L1632.11,297.34 L1632.29,295.18 L1632.46,293.03 L1632.64,290.88 L1632.81,288.73 L1632.99,286.6 L1633.17,284.48 L1633.36,282.38 L1633.56,280.3 L1633.76,278.25 L1633.97,276.23 L1634.2,274.25 L1634.43,272.3 L1634.68,270.4 L1634.93,268.55 L1635.21,266.75 L1635.5,265 L1635.9,262.58 L1636.3,260.03 L1636.7,257.42 L1637.12,254.79 L1637.55,252.22 L1638,249.76 L1638.47,247.49 L1638.99,245.45 L1639.54,243.73 L1640.14,242.37 L1640.79,241.44 L1641.5,241 L1642.88,241.35 L1644.48,242.75 L1646.13,244.87 L1647.69,247.39 L1649,250 L1649.57,251.44 L1650.07,253.04 L1650.5,254.78 L1650.87,256.63 L1651.19,258.58 L1651.47,260.62 L1651.72,262.73 L1651.94,264.89 L1652.15,267.08 L1652.35,269.29 L1652.54,271.5 L1652.75,273.69 L1652.97,275.85 L1653.22,277.96 L1653.5,280 L1653.8,282 L1654.1,284 L1654.4,286 L1654.7,288 L1655,290 L1655.3,292 L1655.6,294 L1655.9,296 L1656.2,298 L1656.5,300 L1656.8,302 L1657.1,304 L1657.4,306 L1657.7,308 L1658,310 L1658.3,312 L1658.61,314 L1658.92,316 L1659.24,318 L1659.56,320 L1659.87,322 L1660.19,323.99 L1660.5,325.99 L1660.81,327.99 L1661.11,329.99 L1661.41,331.99 L1661.7,333.99 L1661.97,336 L1662.24,338 L1662.5,340 L1662.74,341.99 L1662.98,343.97 L1663.2,345.95 L1663.41,347.92 L1663.62,349.89 L1663.82,351.86 L1664.01,353.83 L1664.2,355.81 L1664.39,357.8 L1664.57,359.79 L1664.76,361.8 L1664.94,363.82 L1665.12,365.86 L1665.31,367.92 L1665.5,370 L1665.67,371.92 L1665.84,373.87 L1665.99,375.85 L1666.15,377.84 L1666.3,379.86 L1666.45,381.88 L1666.6,383.92 L1666.74,385.96 L1666.89,388.01 L1667.05,390.05 L1667.2,392.09 L1667.36,394.13 L1667.53,396.15 L1667.71,398.17 L1667.89,400.16 L1668.08,402.13 L1668.28,404.08 L1668.5,406 L1668.75,408.08 L1669.02,410.13 L1669.3,412.16 L1669.59,414.17 L1669.88,416.16 L1670.19,418.14 L1670.5,420.11 L1670.82,422.07 L1671.13,424.03 L1671.45,426 L1671.77,427.97 L1672.09,429.95 L1672.4,431.95 L1672.7,433.96 L1673,436 L1673.28,438.03 L1673.56,440.11 L1673.84,442.21 L1674.11,444.33 L1674.38,446.48 L1674.64,448.63 L1674.91,450.78 L1675.18,452.93 L1675.45,455.06 L1675.72,457.17 L1676,459.26 L1676.28,461.3 L1676.57,463.31 L1676.87,465.27 L1677.18,467.17 L1677.5,469 L1677.91,471.39 L1678.34,473.97 L1678.77,476.64 L1679.22,479.3 L1679.67,481.83 L1680.13,484.13 L1680.59,486.11 L1681.06,487.65 L1681.53,488.65 L1682,489 L1682.41,488.73 L1682.84,487.95 L1683.28,486.74 L1683.73,485.13 L1684.18,483.19 L1684.64,480.97 L1685.09,478.53 L1685.54,475.93 L1685.99,473.22 L1686.42,470.46 L1686.84,467.7 L1687.25,465 L1687.63,462.41 L1688,460 L1688.27,458.16 L1688.53,456.29 L1688.78,454.38 L1689.01,452.43 L1689.24,450.46 L1689.46,448.46 L1689.67,446.43 L1689.87,444.38 L1690.07,442.31 L1690.26,440.23 L1690.45,438.13 L1690.64,436.03 L1690.82,433.91 L1691,431.79 L1691.18,429.67 L1691.36,427.55 L1691.54,425.43 L1691.73,423.32 L1691.91,421.22 L1692.1,419.13 L1692.3,417.06 L1692.5,415 L1692.7,412.95 L1692.91,410.91 L1693.11,408.86 L1693.32,406.82 L1693.52,404.77 L1693.73,402.73 L1693.93,400.68 L1694.14,398.64 L1694.34,396.59 L1694.55,394.55 L1694.75,392.5 L1694.95,390.45 L1695.16,388.41 L1695.36,386.36 L1695.57,384.32 L1695.77,382.27 L1695.98,380.23 L1696.18,378.18 L1696.39,376.14 L1696.59,374.09 L1696.8,372.05 L1697,370 L1697.2,367.95 L1697.41,365.91 L1697.61,363.86 L1697.82,361.82 L1698.02,359.77 L1698.23,357.73 L1698.43,355.68 L1698.64,353.64 L1698.84,351.59 L1699.05,349.55 L1699.25,347.5 L1699.45,345.45 L1699.66,343.41 L1699.86,341.36 L1700.07,339.32 L1700.27,337.27 L1700.48,335.23 L1700.68,333.18 L1700.89,331.14 L1701.09,329.09 L1701.3,327.05 L1701.5,325 L1701.7,322.95 L1701.91,320.89 L1702.11,318.81 L1702.31,316.73 L1702.51,314.65 L1702.71,312.56 L1702.91,310.46 L1703.11,308.37 L1703.31,306.28 L1703.51,304.19 L1703.71,302.1 L1703.91,300.02 L1704.11,297.95 L1704.31,295.89 L1704.52,293.85 L1704.72,291.81 L1704.93,289.8 L1705.14,287.79 L1705.35,285.81 L1705.56,283.85 L1705.78,281.91 L1706,280 L1706.25,277.85 L1706.48,275.7 L1706.72,273.54 L1706.95,271.38 L1707.18,269.23 L1707.41,267.09 L1707.64,264.98 L1707.88,262.88 L1708.12,260.82 L1708.38,258.79 L1708.64,256.8 L1708.91,254.85 L1709.19,252.96 L1709.49,251.12 L1709.81,249.35 L1710.15,247.64 L1710.5,246 L1711.04,243.55 L1711.58,240.99 L1712.15,238.44 L1712.74,236.04 L1713.38,233.91 L1714.06,232.19 L1714.79,231.01 L1715.6,230.5 L1716.88,230.96 L1718.34,232.47 L1719.85,234.7 L1721.28,237.32 L1722.5,240 L1723.04,241.47 L1723.51,243.07 L1723.93,244.79 L1724.29,246.63 L1724.62,248.55 L1724.9,250.56 L1725.16,252.63 L1725.4,254.76 L1725.62,256.93 L1725.83,259.12 L1726.04,261.33 L1726.25,263.53 L1726.48,265.72 L1726.73,267.88 L1727,270 L1727.26,271.92 L1727.52,273.86 L1727.77,275.83 L1728.03,277.81 L1728.28,279.8 L1728.53,281.81 L1728.77,283.83 L1729.02,285.86 L1729.26,287.89 L1729.51,289.93 L1729.76,291.96 L1730,293.99 L1730.25,296.02 L1730.49,298.04 L1730.74,300.05 L1730.99,302.05 L1731.25,304.03 L1731.5,306 L1731.78,308.1 L1732.05,310.18 L1732.33,312.26 L1732.62,314.32 L1732.9,316.37 L1733.18,318.42 L1733.47,320.46 L1733.75,322.5 L1734.03,324.54 L1734.32,326.58 L1734.6,328.63 L1734.88,330.68 L1735.17,332.74 L1735.45,334.82 L1735.72,336.9 L1736,339 L1736.25,340.97 L1736.51,342.95 L1736.76,344.95 L1737.01,346.96 L1737.25,348.98 L1737.5,351.01 L1737.74,353.04 L1737.99,355.07 L1738.24,357.11 L1738.48,359.14 L1738.73,361.17 L1738.97,363.19 L1739.22,365.2 L1739.47,367.19 L1739.73,369.17 L1739.98,371.14 L1740.24,373.08 L1740.5,375 L1740.79,377.08 L1741.08,379.12 L1741.38,381.13 L1741.68,383.13 L1741.99,385.1 L1742.29,387.07 L1742.6,389.02 L1742.9,390.98 L1743.21,392.93 L1743.51,394.9 L1743.82,396.87 L1744.12,398.87 L1744.42,400.88 L1744.71,402.92 L1745,405 L1745.26,406.93 L1745.52,408.88 L1745.77,410.87 L1746.02,412.88 L1746.26,414.91 L1746.51,416.95 L1746.75,419 L1746.99,421.06 L1747.23,423.12 L1747.47,425.18 L1747.72,427.23 L1747.96,429.27 L1748.21,431.29 L1748.46,433.29 L1748.71,435.27 L1748.97,437.21 L1749.23,439.13 L1749.5,441 L1749.82,443.24 L1750.15,445.48 L1750.47,447.73 L1750.79,449.97 L1751.12,452.18 L1751.45,454.37 L1751.78,456.51 L1752.12,458.61 L1752.48,460.64 L1752.84,462.61 L1753.21,464.5 L1753.6,466.3 L1754,468 L1754.62,470.58 L1755.26,473.27 L1755.92,475.82 L1756.61,477.97 L1757.3,479.45 L1758,480 L1758.7,479.51 L1759.44,478.15 L1760.2,476.12 L1760.95,473.61 L1761.68,470.79 L1762.37,467.86 L1763,465 L1763.31,463.47 L1763.6,461.84 L1763.87,460.12 L1764.12,458.32 L1764.36,456.45 L1764.59,454.51 L1764.8,452.51 L1765,450.45 L1765.2,448.35 L1765.38,446.21 L1765.56,444.04 L1765.73,441.84 L1765.9,439.63 L1766.07,437.4 L1766.24,435.17 L1766.41,432.94 L1766.58,430.72 L1766.75,428.52 L1766.93,426.33 L1767.11,424.18 L1767.3,422.07 L1767.5,420 L1767.7,417.95 L1767.91,415.91 L1768.11,413.86 L1768.32,411.82 L1768.52,409.77 L1768.73,407.73 L1768.93,405.68 L1769.14,403.64 L1769.34,401.59 L1769.55,399.55 L1769.75,397.5 L1769.95,395.45 L1770.16,393.41 L1770.36,391.36 L1770.57,389.32 L1770.77,387.27 L1770.98,385.23 L1771.18,383.18 L1771.39,381.14 L1771.59,379.09 L1771.8,377.05 L1772,375 L1772.2,372.95 L1772.41,370.91 L1772.61,368.86 L1772.82,366.82 L1773.02,364.77 L1773.23,362.73 L1773.43,360.68 L1773.64,358.64 L1773.84,356.59 L1774.05,354.55 L1774.25,352.5 L1774.45,350.45 L1774.66,348.41 L1774.86,346.36 L1775.07,344.32 L1775.27,342.27 L1775.48,340.23 L1775.68,338.18 L1775.89,336.14 L1776.09,334.09 L1776.3,332.05 L1776.5,330 L1776.7,327.95 L1776.91,325.91 L1777.11,323.86 L1777.32,321.82 L1777.52,319.77 L1777.73,317.73 L1777.93,315.68 L1778.14,313.64 L1778.34,311.59 L1778.55,309.55 L1778.75,307.5 L1778.95,305.45 L1779.16,303.41 L1779.36,301.36 L1779.57,299.32 L1779.77,297.27 L1779.98,295.23 L1780.18,293.18 L1780.39,291.14 L1780.59,289.09 L1780.8,287.05 L1781,285 L1781.2,282.94 L1781.39,280.85 L1781.58,278.73 L1781.77,276.6 L1781.95,274.45 L1782.12,272.29 L1782.3,270.12 L1782.48,267.95 L1782.65,265.78 L1782.83,263.63 L1783.01,261.48 L1783.2,259.35 L1783.39,257.24 L1783.58,255.16 L1783.79,253.11 L1784,251.1 L1784.22,249.12 L1784.45,247.19 L1784.69,245.31 L1784.95,243.48 L1785.22,241.71 L1785.5,240 L1785.93,237.69 L1786.38,235.5 L1786.86,233.41 L1787.36,231.4 L1787.87,229.45 L1788.39,227.54 L1788.92,225.66 L1789.45,223.78 L1789.97,221.89 L1790.49,219.97 L1791,218" stroke="#0000ff" stroke-width="8.33" stroke-linejoin="round" stroke-linecap="square"/>
<path d="M240,388 L350,389 L353.5,144 L379.5,144 L383,492 L388,493 L391,505 L394,495 L421,495.4 L425,128 L458.4,127.6 L463,495 L490,495 L492.4,360.6 L545,359 L548,126.4 L581.4,125.6 L587,494 L613,494 L616,546 L619,540 L621,494 L623.6,125 L657.5,124.5 L660,499 L700,498 L704,95.6 L716,95 L718,93 L736.4,93 L740,584 L776,584 L782,92.4 L788,93 L790,95 L805,95 L809,530 L848,530 L853,120.6 L879,120.6 L883,528.4 L921,528 L927,147.6 L953.6,147.6 L958,559.4 L987,559 L992,148 L1018,148 L1022,492 L1050,492 L1055,148.6 L1080,148.6 L1083,534 L1112,534 L1116,149 L1142,149 L1144,58.4 L1149,58.4 L1152,61.6 L1156,61.6 L1160,366 L1161,367 L1163,361 L1221,361 L1222,366 L1227,366 L1228,389 L1283,389 L1288,96 L1352,94 L1355,347.4 L1397,345.6 L1399,386 L1443,385 L1449,152 L1478,152 L1481,461 L1520,461 L1524,152.4 L1553,152.4 L1556,462 L1596,462 L1600,153 L1629,153 L1632,463 L1672,463 L1675,153.6 L1704,153.6 L1707,464 L1746,464 L1750,154 L1780,154 L1784,378 L1800,379" stroke="#ff0000" stroke-opacity="0.8" stroke-width="4.17" stroke-linejoin="round" stroke-linecap="square"/>
<path d="M236,535.63 L237,530.57 L238,525.56 L239,520.6 L240,515.69 L241,510.82 L242,506.01 L243,501.24 L244,496.52 L245,491.85 L246,487.22 L247,482.64 L248,478.1 L249,473.6 L250,469.14 L251,464.73 L252,460.36 L253,456.03 L254,451.73 L255,447.48 L256,443.27 L257,439.09 L258,434.95 L259,430.85 L260,426.78 L261,422.75 L262,418.76 L263,414.8 L264,410.87 L265,406.98 L266,403.13 L267,399.3 L268,395.51 L269,391.76 L270,388.03 L271,384.34 L272,380.67 L273,377.04 L274,373.44 L275,369.87 L276,366.33 L277,362.81 L278,359.33 L279,355.88 L280,352.45 L281,349.06 L282,345.69 L283,342.35 L284,339.03 L285,335.75 L286,332.49 L287,329.25 L288,326.05 L289,322.87 L290,319.71 L291,316.58 L292,313.48 L293,310.4 L294,307.35 L295,304.32 L296,301.32 L297,298.34 L298,295.38 L299,292.45 L300,289.54 L301,286.66 L302,283.8 L303,280.96 L304,278.15 L305,275.36 L306,272.59 L307,269.84 L308,267.12 L309,264.41 L310,261.73 L311,259.07 L312,256.44 L313,253.82 L314,251.23 L315,248.65 L316,246.1 L317,243.57 L318,241.06 L319,238.57 L320,236.1 L321,233.65 L322,231.22 L323,228.81 L324,226.42 L325,224.05 L326,221.7 L327,219.37 L328,217.06 L329,214.77 L330,212.5 L331,210.24 L332,208.01 L333,205.79 L334,203.6 L335,201.42 L336,199.26 L337,197.12 L338,195 L339,192.89 L340,190.8 L341,188.74 L342,186.69 L343,184.65 L344,182.64 L345,180.64 L346,178.66 L347,176.7 L348,174.76 L349,172.83 L350,170.92 L351,169.03 L352,167.15 L353,165.29 L354,163.45 L355,161.63 L356,159.82 L357,158.03 L358,156.26 L359,154.5 L360,152.76 L361,151.03 L362,149.32 L363,147.63 L364,145.95 L365,144.3 L366,142.65 L367,141.02 L368,139.41 L369,137.82 L370,136.24 L371,134.67 L372,133.12 L373,131.59 L374,130.07 L375,128.57 L376,127.09 L377,125.62 L378,124.16 L379,122.72 L380,121.3 L381,119.89 L382,118.5 L383,117.12 L384,115.75 L385,114.4 L386,113.07 L387,111.75 L388,110.45 L389,109.16 L390,107.89 L391,106.63 L392,105.38 L393,104.15 L394,102.94 L395,101.74 L396,100.55 L397,99.38 L398,98.22 L399,97.08 L400,95.95 L401,94.84 L402,93.74 L403,92.66 L404,91.59 L405,90.53 L406,89.49 L407,88.46 L408,87.45 L409,86.45 L410,85.46 L411,84.49 L412,83.53 L413,82.59 L414,81.66 L415,80.75 L416,79.84 L417,78.96 L418,78.08 L419,77.22 L420,76.38 L421,75.54 L422,74.73 L423,73.92 L424,73.13 L425,72.35 L426,71.59 L427,70.84 L428,70.1 L429,69.38 L430,68.67 L431,67.97 L432,67.29 L433,66.62 L434,65.97 L435,65.32 L436,64.7 L437,64.08 L438,63.48 L439,62.89 L440,62.32 L441,61.76 L442,61.21 L443,60.67 L444,60.15 L445,59.64 L446,59.15 L447,58.67 L448,58.2 L449,57.74 L450,57.3 L451,56.87 L452,56.46 L453,56.05 L454,55.66 L455,55.29 L456,54.92 L457,54.57 L458,54.24 L459,53.91 L460,53.6 L461,53.31 L462,53.02 L463,52.75 L464,52.49 L465,52.25 L466,52.02 L467,51.8 L468,51.59 L469,51.4 L470,51.22 L471,51.05 L472,50.9 L473,50.76 L474,50.63 L475,50.52 L476,50.41 L477,50.33 L478,50.25 L479,50.19 L480,50.14 L481,50.1 L482,50.08 L483,50.07 L484,50.07 L485,50.09 L486,50.11 L487,50.16 L488,50.21 L489,50.28 L490,50.36 L491,50.45 L492,50.56 L493,50.68 L494,50.81 L495,50.96 L496,51.12 L497,51.29 L498,51.47 L499,51.67 L500,51.88 L501,52.1 L502,52.34 L503,52.59 L504,52.85 L505,53.13 L506,53.42 L507,53.72 L508,54.04 L509,54.37 L510,54.71 L511,55.06 L512,55.43 L513,55.81 L514,56.21 L515,56.61 L516,57.04 L517,57.47 L518,57.92 L519,58.38 L520,58.85 L521,59.34 L522,59.84 L523,60.35 L524,60.88 L525,61.42 L526,61.97 L527,62.54 L528,63.12 L529,63.71 L530,64.32 L531,64.94 L532,65.57 L533,66.22 L534,66.88 L535,67.55 L536,68.24 L537,68.94 L538,69.66 L539,70.39 L540,71.13 L541,71.88 L542,72.65 L543,73.44 L544,74.23 L545,75.04 L546,75.87 L547,76.7 L548,77.55 L549,78.42 L550,79.3 L551,80.19 L552,81.1 L553,82.02 L554,82.95 L555,83.9 L556,84.87 L557,85.84 L558,86.83 L559,87.84 L560,88.86 L561,89.89 L562,90.94 L563,92 L564,93.08 L565,94.17 L566,95.27 L567,96.39 L568,97.52 L569,98.67 L570,99.83 L571,101.01 L572,102.2 L573,103.41 L574,104.63 L575,105.86 L576,107.11 L577,108.38 L578,109.66 L579,110.95 L580,112.26 L581,113.59 L582,114.93 L583,116.28 L584,117.65 L585,119.03 L586,120.43 L587,121.85 L588,123.28 L589,124.72 L590,126.19 L591,127.66 L592,129.15 L593,130.66 L594,132.18 L595,133.72 L596,135.28 L597,136.85 L598,138.43 L599,140.04 L600,141.65 L601,143.29 L602,144.94 L603,146.6 L604,148.28 L605,149.98 L606,151.7 L607,153.43 L608,155.18 L609,156.94 L610,158.72 L611,160.52 L612,162.33 L613,164.16 L614,166.01 L615,167.88 L616,169.76 L617,171.66 L618,173.58 L619,175.51 L620,177.46 L621,179.43 L622,181.41 L623,183.42 L624,185.44 L625,187.48 L626,189.54 L627,191.61 L628,193.7 L629,195.82 L630,197.95 L631,200.09 L632,202.26 L633,204.45 L634,206.65 L635,208.87 L636,211.11 L637,213.37 L638,215.65 L639,217.95 L640,220.27 L641,222.61 L642,224.97 L643,227.34 L644,229.74 L645,232.16 L646,234.6 L647,237.05 L648,239.53 L649,242.03 L650,244.55 L651,247.09 L652,249.65 L653,252.23 L654,254.83 L655,257.46 L656,260.1 L657,262.77 L658,265.46 L659,268.17 L660,270.9 L661,273.66 L662,276.44 L663,279.24 L664,282.06 L665,284.91 L666,287.78 L667,290.67 L668,293.59 L669,296.53 L670,299.49 L671,302.48 L672,305.49 L673,308.53 L674,311.59 L675,314.68 L676,317.79 L677,320.93 L678,324.1 L679,327.29 L680,330.5 L681,333.75 L682,337.02 L683,340.31 L684,343.64 L685,346.99 L686,350.37 L687,353.78 L688,357.21 L689,360.68 L690,364.17 L691,367.69 L692,371.25 L693,374.83 L694,378.44 L695,382.09 L696,385.76 L697,389.47 L698,393.21 L699,396.98 L700,400.78 L701,404.62 L702,408.49 L703,412.39 L704,416.33 L705,420.3 L706,424.31 L707,428.35 L708,432.43 L709,436.55 L710,440.7 L711,444.9 L712,449.12 L713,453.39 L714,457.7 L715,462.05 L716,466.44 L717,470.87 L718,475.34 L719,479.85 L720,484.41 L721,489.01 L722,493.66 L723,498.35 L724,503.09 L725,507.87 L726,512.7 L727,517.58 L728,522.51 L729,527.5 L730,532.53 L731,537.61 L732,542.75 L733,547.94 L734,553.19 L735,558.49 L736,563.85 L737,569.27 L738,574.75 L739,580.29 L740,585.89 L741,591.56 L742,597.29 L743,603.08 L744,608.94 L745,614.87 L746,620.87 L747,626.93 L748,633.07 L749,639.28 L750,645.56 L751,651.92 L752,658.34 L753,664.84 L754,671.42 L755,678.06 L756,684.77 L757,691.55 L758,698.39 L759,705.28 L760,712.22 L761,719.2 L762,726.2 L763,733.2 L764,740.17 L765,747.08 L766,753.89 L767,760.52 L768,766.91 L769,772.95 L770,778.5 L771,783.43 L772,787.54 L773,790.66 L774,792.61 L775,793.27 L776,792.61 L777,790.65 L778,787.53 L779,783.42 L780,778.49 L781,772.94 L782,766.9 L783,760.51 L784,753.87 L785,747.07 L786,740.16 L787,733.18 L788,726.19 L789,719.19 L790,712.21 L791,705.27 L792,698.37 L793,691.53 L794,684.76 L795,678.05 L796,671.4 L797,664.83 L798,658.33 L799,651.9 L800,645.55 L801,639.27 L802,633.06 L803,626.92 L804,620.86 L805,614.86 L806,608.93 L807,603.07 L808,597.28 L809,591.55 L810,585.88 L811,580.28 L812,574.74 L813,569.26 L814,563.84 L815,558.48 L816,553.18 L817,547.93 L818,542.74 L819,537.6 L820,532.52 L821,527.49 L822,522.5 L823,517.57 L824,512.69 L825,507.86 L826,503.08 L827,498.34 L828,493.65 L829,489 L830,484.4 L831,479.84 L832,475.33 L833,470.86 L834,466.43 L835,462.04 L836,457.69 L837,453.38 L838,449.12 L839,444.89 L840,440.7 L841,436.54 L842,432.43 L843,428.35 L844,424.3 L845,420.29 L846,416.32 L847,412.38 L848,408.48 L849,404.61 L850,400.78 L851,396.97 L852,393.2 L853,389.46 L854,385.76 L855,382.08 L856,378.44 L857,374.82 L858,371.24 L859,367.69 L860,364.16 L861,360.67 L862,357.21 L863,353.77 L864,350.36 L865,346.98 L866,343.63 L867,340.31 L868,337.01 L869,333.74 L870,330.5 L871,327.28 L872,324.09 L873,320.93 L874,317.79 L875,314.68 L876,311.59 L877,308.52 L878,305.49 L879,302.47 L880,299.49 L881,296.52 L882,293.58 L883,290.66 L884,287.77 L885,284.9 L886,282.05 L887,279.23 L888,276.43 L889,273.65 L890,270.9 L891,268.16 L892,265.45 L893,262.76 L894,260.1 L895,257.45 L896,254.83 L897,252.22 L898,249.64 L899,247.08 L900,244.54 L901,242.02 L902,239.53 L903,237.05 L904,234.59 L905,232.15 L906,229.74 L907,227.34 L908,224.96 L909,222.61 L910,220.27 L911,217.95 L912,215.65 L913,213.37 L914,211.11 L915,208.87 L916,206.65 L917,204.44 L918,202.26 L919,200.09 L920,197.94 L921,195.81 L922,193.7 L923,191.61 L924,189.53 L925,187.48 L926,185.44 L927,183.41 L928,181.41 L929,179.42 L930,177.46 L931,175.51 L932,173.57 L933,171.66 L934,169.76 L935,167.87 L936,166.01 L937,164.16 L938,162.33 L939,160.52 L940,158.72 L941,156.94 L942,155.17 L943,153.43 L944,151.69 L945,149.98 L946,148.28 L947,146.6 L948,144.93 L949,143.28 L950,141.65 L951,140.03 L952,138.43 L953,136.84 L954,135.27 L955,133.72 L956,132.18 L957,130.66 L958,129.15 L959,127.66 L960,126.18 L961,124.72 L962,123.28 L963,121.85 L964,120.43 L965,119.03 L966,117.65 L967,116.28 L968,114.92 L969,113.58 L970,112.26 L971,110.95 L972,109.66 L973,108.38 L974,107.11 L975,105.86 L976,104.63 L977,103.41 L978,102.2 L979,101.01 L980,99.83 L981,98.67 L982,97.52 L983,96.39 L984,95.27 L985,94.16 L986,93.07 L987,92 L988,90.94 L989,89.89 L990,88.86 L991,87.84 L992,86.83 L993,85.84 L994,84.86 L995,83.9 L996,82.95 L997,82.02 L998,81.1 L999,80.19 L1000,79.3 L1001,78.42 L1002,77.55 L1003,76.7 L1004,75.86 L1005,75.04 L1006,74.23 L1007,73.43 L1008,72.65 L1009,71.88 L1010,71.13 L1011,70.38 L1012,69.66 L1013,68.94 L1014,68.24 L1015,67.55 L1016,66.88 L1017,66.22 L1018,65.57 L1019,64.94 L1020,64.32 L1021,63.71 L1022,63.12 L1023,62.54 L1024,61.97 L1025,61.42 L1026,60.88 L1027,60.35 L1028,59.84 L1029,59.34 L1030,58.85 L1031,58.38 L1032,57.92 L1033,57.47 L1034,57.03 L1035,56.61 L1036,56.21 L1037,55.81 L1038,55.43 L1039,55.06 L1040,54.71 L1041,54.37 L1042,54.04 L1043,53.72 L1044,53.42 L1045,53.13 L1046,52.85 L1047,52.59 L1048,52.34 L1049,52.1 L1050,51.88 L1051,51.67 L1052,51.47 L1053,51.29 L1054,51.12 L1055,50.96 L1056,50.81 L1057,50.68 L1058,50.56 L1059,50.45 L1060,50.36 L1061,50.28 L1062,50.21 L1063,50.16 L1064,50.11 L1065,50.09 L1066,50.07 L1067,50.07 L1068,50.08 L1069,50.1 L1070,50.14 L1071,50.19 L1072,50.25 L1073,50.33 L1074,50.41 L1075,50.52 L1076,50.63 L1077,50.76 L1078,50.9 L1079,51.05 L1080,51.22 L1081,51.4 L1082,51.59 L1083,51.8 L1084,52.02 L1085,52.25 L1086,52.49 L1087,52.75 L1088,53.02 L1089,53.31 L1090,53.6 L1091,53.92 L1092,54.24 L1093,54.58 L1094,54.93 L1095,55.29 L1096,55.66 L1097,56.05 L1098,56.46 L1099,56.87 L1100,57.3 L1101,57.74 L1102,58.2 L1103,58.67 L1104,59.15 L1105,59.64 L1106,60.15 L1107,60.67 L1108,61.21 L1109,61.76 L1110,62.32 L1111,62.89 L1112,63.48 L1113,64.08 L1114,64.7 L1115,65.33 L1116,65.97 L1117,66.62 L1118,67.29 L1119,67.97 L1120,68.67 L1121,69.38 L1122,70.1 L1123,70.84 L1124,71.59 L1125,72.35 L1126,73.13 L1127,73.92 L1128,74.73 L1129,75.55 L1130,76.38 L1131,77.22 L1132,78.08 L1133,78.96 L1134,79.85 L1135,80.75 L1136,81.66 L1137,82.59 L1138,83.54 L1139,84.49 L1140,85.46 L1141,86.45 L1142,87.45 L1143,88.46 L1144,89.49 L1145,90.53 L1146,91.59 L1147,92.66 L1148,93.74 L1149,94.84 L1150,95.96 L1151,97.08 L1152,98.23 L1153,99.38 L1154,100.55 L1155,101.74 L1156,102.94 L1157,104.16 L1158,105.39 L1159,106.63 L1160,107.89 L1161,109.16 L1162,110.45 L1163,111.76 L1164,113.07 L1165,114.41 L1166,115.76 L1167,117.12 L1168,118.5 L1169,119.89 L1170,121.3 L1171,122.73 L1172,124.17 L1173,125.62 L1174,127.09 L1175,128.58 L1176,130.08 L1177,131.59 L1178,133.13 L1179,134.68 L1180,136.24 L1181,137.82 L1182,139.42 L1183,141.03 L1184,142.65 L1185,144.3 L1186,145.96 L1187,147.63 L1188,149.33 L1189,151.03 L1190,152.76 L1191,154.5 L1192,156.26 L1193,158.03 L1194,159.82 L1195,161.63 L1196,163.46 L1197,165.3 L1198,167.16 L1199,169.03 L1200,170.92 L1201,172.83 L1202,174.76 L1203,176.71 L1204,178.67 L1205,180.65 L1206,182.64 L1207,184.66 L1208,186.69 L1209,188.74 L1210,190.81 L1211,192.9 L1212,195 L1213,197.12 L1214,199.26 L1215,201.42 L1216,203.6 L1217,205.8 L1218,208.01 L1219,210.25 L1220,212.5 L1221,214.77 L1222,217.06 L1223,219.38 L1224,221.71 L1225,224.06 L1226,226.43 L1227,228.81 L1228,231.22 L1229,233.65 L1230,236.1 L1231,238.57 L1232,241.06 L1233,243.57 L1234,246.11 L1235,248.66 L1236,251.23 L1237,253.83 L1238,256.44 L1239,259.08 L1240,261.74 L1241,264.42 L1242,267.12 L1243,269.85 L1244,272.59 L1245,275.36 L1246,278.15 L1247,280.97 L1248,283.81 L1249,286.67 L1250,289.55 L1251,292.46 L1252,295.39 L1253,298.35 L1254,301.32 L1255,304.33 L1256,307.36 L1257,310.41 L1258,313.49 L1259,316.59 L1260,319.72 L1261,322.87 L1262,326.05 L1263,329.26 L1264,332.49 L1265,335.75 L1266,339.04 L1267,342.35 L1268,345.69 L1269,349.06 L1270,352.46 L1271,355.88 L1272,359.34 L1273,362.82 L1274,366.33 L1275,369.87 L1276,373.45 L1277,377.05 L1278,380.68 L1279,384.34 L1280,388.04 L1281,391.76 L1282,395.52 L1283,399.31 L1284,403.14 L1285,406.99 L1286,410.88 L1287,414.81 L1288,418.77 L1289,422.76 L1290,426.79 L1291,430.86 L1292,434.96 L1293,439.1 L1294,443.27 L1295,447.49 L1296,451.74 L1297,456.03 L1298,460.37 L1299,464.74 L1300,469.15 L1301,473.61 L1302,478.11 L1303,482.65 L1304,487.23 L1305,491.86 L1306,496.53 L1307,501.25 L1308,506.02 L1309,510.83 L1310,515.7 L1311,520.61 L1312,525.57 L1313,530.58 L1314,535.65 L1315,540.76 L1316,545.93 L1317,551.16 L1318,556.44 L1319,561.78 L1320,567.18 L1321,572.63 L1322,578.15 L1323,583.73 L1324,589.37 L1325,595.07 L1326,600.84 L1327,606.67 L1328,612.58 L1329,618.55 L1330,624.59 L1331,630.7 L1332,636.88 L1333,643.13 L1334,649.46 L1335,655.86 L1336,662.33 L1337,668.87 L1338,675.49 L1339,682.17 L1340,688.93 L1341,695.74 L1342,702.62 L1343,709.54 L1344,716.51 L1345,723.5 L1346,730.5 L1347,737.49 L1348,744.43 L1349,751.28 L1350,757.99 L1351,764.48 L1352,770.67 L1353,776.43 L1354,781.62 L1355,786.06 L1356,789.59 L1357,792 L1358,793.18 L1359,793.02 L1360,791.55 L1361,788.87 L1362,785.11 L1363,780.48 L1364,775.14 L1365,769.27 L1366,763.01 L1367,756.46 L1368,749.71 L1369,742.83 L1370,735.88 L1371,728.89 L1372,721.88 L1373,714.9 L1374,707.94 L1375,701.03 L1376,694.17 L1377,687.36 L1378,680.63 L1379,673.96 L1380,667.36 L1381,660.83 L1382,654.37 L1383,647.99 L1384,641.68 L1385,635.45 L1386,629.28 L1387,623.19 L1388,617.16 L1389,611.21 L1390,605.32 L1391,599.5 L1392,593.75 L1393,588.06 L1394,582.43 L1395,576.87 L1396,571.37 L1397,565.93 L1398,560.54 L1399,555.22 L1400,549.95 L1401,544.74 L1402,539.58 L1403,534.47 L1404,529.42 L1405,524.42 L1406,519.47 L1407,514.57 L1408,509.72 L1409,504.92 L1410,500.16 L1411,495.45 L1412,490.79 L1413,486.17 L1414,481.6 L1415,477.07 L1416,472.58 L1417,468.13 L1418,463.73 L1419,459.36 L1420,455.04 L1421,450.76 L1422,446.51 L1423,442.31 L1424,438.14 L1425,434.01 L1426,429.92 L1427,425.86 L1428,421.84 L1429,417.85 L1430,413.9 L1431,409.98 L1432,406.1 L1433,402.25 L1434,398.43 L1435,394.65 L1436,390.9 L1437,387.18 L1438,383.49 L1439,379.84 L1440,376.21 L1441,372.62 L1442,369.05 L1443,365.52 L1444,362.01 L1445,358.54 L1446,355.09 L1447,351.67 L1448,348.28 L1449,344.92 L1450,341.59 L1451,338.28 L1452,335 L1453,331.75 L1454,328.52 L1455,325.32 L1456,322.14 L1457,319 L1458,315.87 L1459,312.78 L1460,309.7 L1461,306.66 L1462,303.63 L1463,300.64 L1464,297.66 L1465,294.71 L1466,291.79 L1467,288.88 L1468,286 L1469,283.15 L1470,280.32 L1471,277.51 L1472,274.72 L1473,271.96 L1474,269.21 L1475,266.5 L1476,263.8 L1477,261.12 L1478,258.47 L1479,255.84 L1480,253.23 L1481,250.64 L1482,248.07 L1483,245.52 L1484,242.99 L1485,240.49 L1486,238 L1487,235.54 L1488,233.09 L1489,230.67 L1490,228.26 L1491,225.88 L1492,223.51 L1493,221.17 L1494,218.84 L1495,216.53 L1496,214.25 L1497,211.98 L1498,209.73 L1499,207.5 L1500,205.29 L1501,203.1 L1502,200.92 L1503,198.77 L1504,196.63 L1505,194.51 L1506,192.41 L1507,190.33 L1508,188.27 L1509,186.22 L1510,184.19 L1511,182.18 L1512,180.19 L1513,178.21 L1514,176.26 L1515,174.32 L1516,172.39 L1517,170.49 L1518,168.6 L1519,166.73 L1520,164.87 L1521,163.03 L1522,161.21 L1523,159.41 L1524,157.62 L1525,155.85 L1526,154.1 L1527,152.36 L1528,150.64 L1529,148.93 L1530,147.25 L1531,145.57 L1532,143.92 L1533,142.28 L1534,140.65 L1535,139.05 L1536,137.45 L1537,135.88 L1538,134.32 L1539,132.77 L1540,131.24 L1541,129.73 L1542,128.23 L1543,126.75 L1544,125.28 L1545,123.83 L1546,122.4 L1547,120.97 L1548,119.57 L1549,118.18 L1550,116.8 L1551,115.44 L1552,114.1 L1553,112.77 L1554,111.45 L1555,110.15 L1556,108.87 L1557,107.6 L1558,106.34 L1559,105.1 L1560,103.87 L1561,102.66 L1562,101.47 L1563,100.28 L1564,99.12 L1565,97.96 L1566,96.82 L1567,95.7 L1568,94.59 L1569,93.49 L1570,92.41 L1571,91.34 L1572,90.29 L1573,89.25 L1574,88.23 L1575,87.22 L1576,86.22 L1577,85.24 L1578,84.27 L1579,83.32 L1580,82.38 L1581,81.45 L1582,80.54 L1583,79.64 L1584,78.76 L1585,77.89 L1586,77.03 L1587,76.19 L1588,75.36 L1589,74.54 L1590,73.74 L1591,72.95 L1592,72.18 L1593,71.42 L1594,70.67 L1595,69.94 L1596,69.22 L1597,68.51 L1598,67.82 L1599,67.14 L1600,66.47 L1601,65.82 L1602,65.18 L1603,64.55 L1604,63.94 L1605,63.34 L1606,62.76 L1607,62.19 L1608,61.63 L1609,61.08 L1610,60.55 L1611,60.03 L1612,59.53 L1613,59.04 L1614,58.56 L1615,58.09 L1616,57.64 L1617,57.2 L1618,56.77 L1619,56.36 L1620,55.96 L1621,55.58 L1622,55.2 L1623,54.84 L1624,54.5 L1625,54.16 L1626,53.84 L1627,53.53 L1628,53.24 L1629,52.96 L1630,52.69 L1631,52.44 L1632,52.19 L1633,51.97 L1634,51.75 L1635,51.55 L1636,51.36 L1637,51.18 L1638,51.02 L1639,50.87 L1640,50.73 L1641,50.6 L1642,50.49 L1643,50.39 L1644,50.31 L1645,50.24 L1646,50.18 L1647,50.13 L1648,50.1 L1649,50.08 L1650,50.07 L1651,50.07 L1652,50.09 L1653,50.12 L1654,50.17 L1655,50.23 L1656,50.3 L1657,50.38 L1658,50.48 L1659,50.59 L1660,50.71 L1661,50.84 L1662,50.99 L1663,51.15 L1664,51.33 L1665,51.52 L1666,51.72 L1667,51.93 L1668,52.16 L1669,52.4 L1670,52.65 L1671,52.92 L1672,53.2 L1673,53.49 L1674,53.79 L1675,54.11 L1676,54.44 L1677,54.79 L1678,55.15 L1679,55.52 L1680,55.9 L1681,56.3 L1682,56.71 L1683,57.13 L1684,57.57 L1685,58.02 L1686,58.48 L1687,58.96 L1688,59.45 L1689,59.95 L1690,60.47 L1691,61 L1692,61.54 L1693,62.1 L1694,62.67 L1695,63.25 L1696,63.85 L1697,64.46 L1698,65.08 L1699,65.72 L1700,66.37 L1701,67.03 L1702,67.71 L1703,68.4 L1704,69.11 L1705,69.82 L1706,70.55 L1707,71.3 L1708,72.06 L1709,72.83 L1710,73.62 L1711,74.42 L1712,75.23 L1713,76.06 L1714,76.9 L1715,77.75 L1716,78.62 L1717,79.5 L1718,80.4 L1719,81.31 L1720,82.23 L1721,83.17 L1722,84.12 L1723,85.09 L1724,86.07 L1725,87.06 L1726,88.07 L1727,89.09 L1728,90.13 L1729,91.18 L1730,92.25 L1731,93.32 L1732,94.42 L1733,95.53 L1734,96.65 L1735,97.78 L1736,98.94 L1737,100.1 L1738,101.28 L1739,102.48 L1740,103.69 L1741,104.91 L1742,106.15 L1743,107.4 L1744,108.67 L1745,109.95 L1746,111.25 L1747,112.56 L1748,113.89 L1749,115.23 L1750,116.59 L1751,117.96 L1752,119.35 L1753,120.76 L1754,122.17 L1755,123.61 L1756,125.06 L1757,126.52 L1758,128 L1759,129.5 L1760,131.01 L1761,132.53 L1762,134.08 L1763,135.63 L1764,137.21 L1765,138.8 L1766,140.4 L1767,142.03 L1768,143.66 L1769,145.32 L1770,146.99 L1771,148.67 L1772,150.37 L1773,152.09 L1774,153.83 L1775,155.58 L1776,157.35 L1777,159.13 L1778,160.93 L1779,162.75 L1780,164.59 L1781,166.44 L1782,168.31 L1783,170.19 L1784,172.1 L1785,174.02 L1786,175.95 L1787,177.91 L1788,179.88 L1789,181.87 L1790,183.88 L1791,185.9 L1792,187.95 L1793,190.01 L1794,192.09 L1795,194.19 L1796,196.3 L1797,198.44 L1798,200.59 L1799,202.76 L1800,204.95 L1801,207.16 L1802,209.38" stroke="#008000" stroke-opacity="0.8" stroke-width="4.17" stroke-linejoin="round" stroke-linecap="square"/>
</g>
<g stroke="#000" stroke-width="2.22" fill="none" stroke-linecap="square">
<path d="M247,48 L1791,48 L1791,795 L247,795 Z" stroke-linejoin="miter"/>
</g>
<path d="M247,795 v9.72 M467.57,795 v9.72 M688.14,795 v9.72 M908.71,795 v9.72 M1129.29,795 v9.72 M1349.86,795 v9.72 M1570.43,795 v9.72 M1791,795 v9.72 M247,795 h-9.72 M247,695.4 h-9.72 M247,595.8 h-9.72 M247,496.2 h-9.72 M247,396.6 h-9.72 M247,297 h-9.72 M247,197.4 h-9.72 M247,97.8 h-9.72 M1791,795 h9.72 M1791,691.25 h9.72 M1791,587.5 h9.72 M1791,483.75 h9.72 M1791,380 h9.72 M1791,276.25 h9.72 M1791,172.5 h9.72 M1791,68.75 h9.72" stroke="#000" stroke-width="2.22" fill="none"/>
<text x="247" y="847.6" font-size="49" text-anchor="middle" fill="#000">331</text>
<text x="467.57" y="847.6" font-size="49" text-anchor="middle" fill="#000">332</text>
<text x="688.14" y="847.6" font-size="49" text-anchor="middle" fill="#000">333</text>
<text x="908.71" y="847.6" font-size="49" text-anchor="middle" fill="#000">334</text>
<text x="1129.29" y="847.6" font-size="49" text-anchor="middle" fill="#000">335</text>
<text x="1349.86" y="847.6" font-size="49" text-anchor="middle" fill="#000">336</text>
<text x="1570.43" y="847.6" font-size="49" text-anchor="middle" fill="#000">337</text>
<text x="1791" y="847.6" font-size="49" text-anchor="middle" fill="#000">338</text>
<text x="226" y="810.6" font-size="49" text-anchor="end" fill="#0000ff"><tspan font-size="55" dy="4.5">−</tspan><tspan dx="3.5" dy="-4.5">120</tspan></text>
<text x="226" y="711" font-size="49" text-anchor="end" fill="#0000ff"><tspan font-size="55" dy="4.5">−</tspan><tspan dx="3.5" dy="-4.5">118</tspan></text>
<text x="226" y="611.4" font-size="49" text-anchor="end" fill="#0000ff"><tspan font-size="55" dy="4.5">−</tspan><tspan dx="3.5" dy="-4.5">116</tspan></text>
<text x="226" y="511.8" font-size="49" text-anchor="end" fill="#0000ff"><tspan font-size="55" dy="4.5">−</tspan><tspan dx="3.5" dy="-4.5">114</tspan></text>
<text x="226" y="412.2" font-size="49" text-anchor="end" fill="#0000ff"><tspan font-size="55" dy="4.5">−</tspan><tspan dx="3.5" dy="-4.5">112</tspan></text>
<text x="226" y="312.6" font-size="49" text-anchor="end" fill="#0000ff"><tspan font-size="55" dy="4.5">−</tspan><tspan dx="3.5" dy="-4.5">110</tspan></text>
<text x="226" y="213" font-size="49" text-anchor="end" fill="#0000ff"><tspan font-size="55" dy="4.5">−</tspan><tspan dx="3.5" dy="-4.5">108</tspan></text>
<text x="226" y="113.4" font-size="49" text-anchor="end" fill="#0000ff"><tspan font-size="55" dy="4.5">−</tspan><tspan dx="3.5" dy="-4.5">106</tspan></text>
<text x="1811.2" y="811.8" font-size="49" fill="#ff0000">0</text>
<text x="1811.2" y="708.05" font-size="49" fill="#ff0000">25</text>
<text x="1811.2" y="604.3" font-size="49" fill="#ff0000">50</text>
<text x="1811.2" y="500.55" font-size="49" fill="#ff0000">75</text>
<text x="1811.2" y="396.8" font-size="49" fill="#ff0000">100</text>
<text x="1811.2" y="293.05" font-size="49" fill="#ff0000">125</text>
<text x="1811.2" y="189.3" font-size="49" fill="#ff0000">150</text>
<text x="1811.2" y="85.55" font-size="49" fill="#ff0000">175</text>
<text x="1019" y="902.8" font-size="49.5" dx="-1.5" text-anchor="middle" fill="#000">Day of Year (2025)</text>
<text transform="translate(83.75,422) rotate(-90)" font-size="48" text-anchor="middle" fill="#000">Focal Plane Temp (degC)</text>
<text transform="translate(1939,421.3) rotate(-90)" font-size="50" text-anchor="middle" fill="#000">Sun Angle (degree)</text>
<rect x="1575.6" y="851.7" width="204.8" height="108.6" fill="#fff" fill-opacity="0.8" stroke="#cccccc" stroke-width="2.6"/>
<path d="M1584,870 H1629" stroke="#0000ff" stroke-width="8.33" stroke-linecap="square"/>
<path d="M1584,904 H1629" stroke="#ff0000" stroke-opacity="0.8" stroke-width="4.17" stroke-linecap="square"/>
<path d="M1584,938 H1629" stroke="#008000" stroke-opacity="0.8" stroke-width="4.17" stroke-linecap="square"/>
<text transform="translate(1646.3,877) scale(0.984,1)" font-size="24.4" fill="#000">Focal Temp</text>
<text transform="translate(1645.7,911.5) scale(1.012,1)" font-size="24.4" fill="#000">Sun Angle</text>
<text transform="translate(1646.9,946) scale(1.057,1)" font-size="24.4" fill="#000">Altitude</text>
</svg></body></html>
